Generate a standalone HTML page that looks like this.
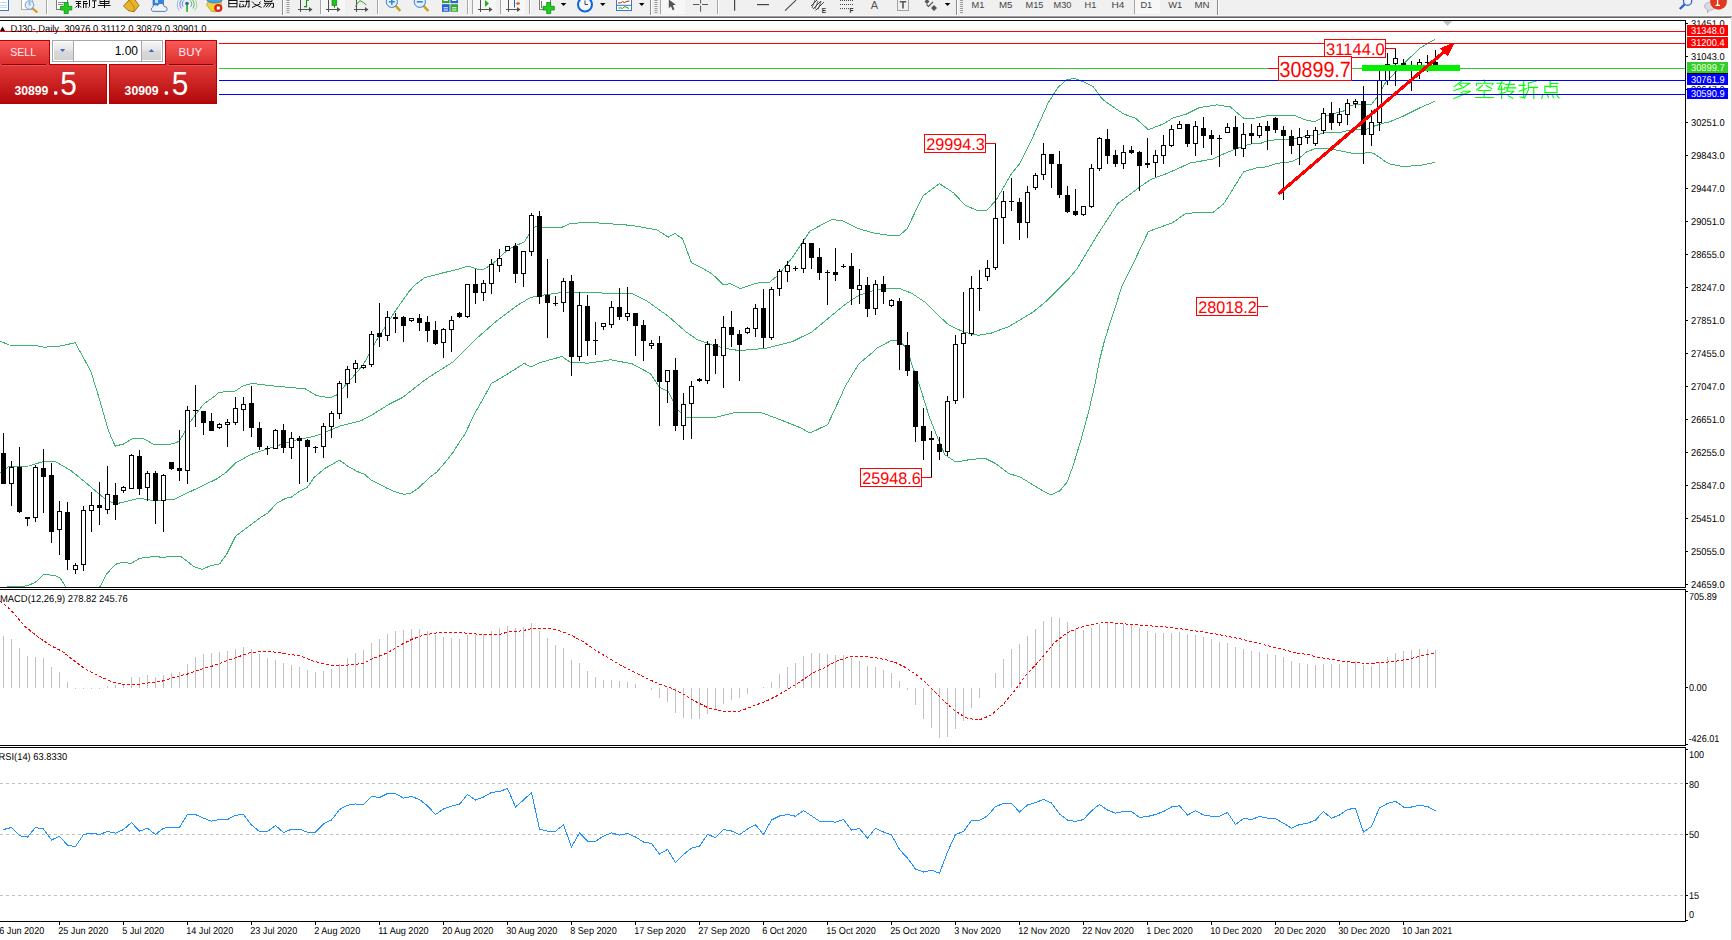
<!DOCTYPE html>
<html><head><meta charset="utf-8"><title>MT4 DJ30 Daily</title>
<style>
html,body{margin:0;padding:0;}
body{width:1732px;height:940px;overflow:hidden;position:relative;background:#fff;font-family:"Liberation Sans", sans-serif;}
#tb{position:absolute;left:0;top:0;width:1732px;height:16px;background:#f0f0f0;overflow:hidden;}
#tbs0{position:absolute;left:0;top:15px;width:1732px;height:1px;background:#f6f6f6;}
#tbs1{position:absolute;left:0;top:16px;width:1732px;height:1px;background:#9c9c9c;}
#tbs2{position:absolute;left:0;top:17px;width:1732px;height:1px;background:#666666;}
#rline{position:absolute;left:1731px;top:17px;width:1px;height:923px;background:#d9d9d9;}
#oc{position:absolute;left:0;top:38px;width:219px;height:68px;background:#fff;}
.btnU{position:absolute;top:2px;height:24px;background:linear-gradient(#f85a5a,#dc2c2c);}
.btnL{position:absolute;top:26px;height:40px;background:linear-gradient(#e03a3a,#b00008);}
.lbl{position:absolute;color:#ffe8e8;font-size:12px;line-height:12px;}
.sep{position:absolute;top:26px;height:1px;background:#7a0000;}
.big{position:absolute;color:#fff;}
</style></head><body>
<div id="tb"><svg width="1732" height="16" viewBox="0 0 1732 16" style="position:absolute;left:0;top:0">
<rect x="-2" y="-3" width="10.5" height="13.5" fill="#fff" stroke="#3b78c8" stroke-width="1"/>
<rect x="0" y="2" width="7" height="1" fill="#c4d8f2"/>
<rect x="0" y="5" width="7" height="1" fill="#c4d8f2"/>
<rect x="0" y="7" width="7" height="1" fill="#c4d8f2"/>
<rect x="21.5" y="-3" width="11" height="12.5" fill="#fff" stroke="#b8ae98" stroke-width="1"/>
<line x1="32" y1="8" x2="37.5" y2="12.5" stroke="#c89a18" stroke-width="2.2"/>
<circle cx="29.5" cy="5" r="4.3" fill="#e2f0fb" stroke="#6d9be0" stroke-width="1"/>
<rect x="28.5" y="1.5" width="2" height="4" fill="#9fb3c8"/>
<rect x="46" y="0" width="1" height="14" fill="#a6a6a6"/>
<rect x="47" y="0" width="1" height="14" fill="#ffffff"/>
<rect x="56.5" y="-3" width="11" height="12.5" fill="#fff" stroke="#7c7c7c" stroke-width="1"/>
<path d="M58 2.5 H64 M58 4.5 H63" stroke="#8a8a8a" stroke-width="1"/>
<path d="M64.2 2.5 H68.2 V6.3 H71.8 V10 H68.2 V13.6 H64.2 V10 H60.5 V6.3 H64.2z" fill="#22cc22" stroke="#0d8a0d" stroke-width="0.8"/>
<g stroke="#111" stroke-width="1" fill="none">
<path d="M75.5 1.5 H81 M76 3.5 H81 M78.5 1.5 V8 M75.5 7.5 L77.5 5.5 M81 7.5 L79.5 5.5 M83 1.5 H87 M83.5 1.5 V8 M86 3.5 V8 M83 3.5 H88"/>
<path d="M89.5 0 V6.5 L88.5 7.5 M92 0.8 H96.5 M94.5 0.8 V7.5 H92.5"/>
<path d="M100 0.5 V3.5 H109 V0.5 M100 1.5 H109 M98 5.5 H110.5 M104.5 0 V8"/>
</g>
<path d="M123.5 6 L129 0 L134.5 -1 L139 5.5 L134 11.8 L128 10.5z" fill="#e7b52c" stroke="#9b6b0c" stroke-width="0.9"/>
<path d="M129 0 L134 7 L134 11.5" stroke="#b07a10" stroke-width="0.8" fill="none"/>
<rect x="153" y="-2" width="10.5" height="7" fill="#2f86e6" stroke="#1c5fb0" stroke-width="0.6"/>
<rect x="155" y="0" width="3" height="3" fill="#bfe0ff"/>
<path d="M152.8 11.4 A2.3 2.3 0 0 1 152.6 7.2 A3 3 0 0 1 157.6 5.6 A3.4 3.4 0 0 1 164.2 6.6 A2.4 2.4 0 0 1 165.2 11.4z" fill="#eef3fa" stroke="#4e6fae" stroke-width="0.9"/>
<g fill="none" stroke="#4a7fe0" stroke-width="0.9">
<path d="M181.2 8.5 A7 7 0 0 1 183 -1.5"/><path d="M183.3 6.8 A4.5 4.5 0 0 1 184.2 0.2"/>
<path d="M192.8 8.5 A7 7 0 0 0 191 -1.5" stroke="#4fae5a"/><path d="M190.7 6.8 A4.5 4.5 0 0 0 189.8 0.2" stroke="#4fae5a"/>
<path d="M179.2 10.5 A9.5 9.5 0 0 1 180 -2" stroke="#8fb0ea"/><path d="M194.8 10.5 A9.5 9.5 0 0 0 194 -2" stroke="#8fcf96"/>
</g>
<circle cx="187" cy="3.6" r="1.8" fill="#2a5fd0"/>
<rect x="186.3" y="4" width="1.5" height="7.8" fill="#17a31e"/>
<path d="M206.5 5 L209 0 L221.5 0 L221 7 L216 11.8 L211.5 11.5z" fill="#f2d23c" stroke="#b79a1a" stroke-width="0.7"/>
<ellipse cx="214.5" cy="0.3" rx="7.5" ry="2.6" fill="#4aa2e4" stroke="#2a74c0" stroke-width="0.7"/>
<circle cx="218.3" cy="8" r="4.1" fill="#d62a14"/>
<rect x="216.8" y="6.5" width="3" height="3" fill="#fff"/>
<g stroke="#111" stroke-width="1" fill="none">
<path d="M228.8 -1 V7.3 M237 -1 V7.3 M228.8 0.5 H237 M228.8 3.5 H237 M228.8 6.8 H237"/>
<path d="M239.5 1.4 H244.5 M240 3.3 L239.5 7 L244.5 6.5 M242.5 4 L244 6 M245.5 1.5 H249.5 M249 0 V7.2 L247.5 6.8 M246.8 0 V3 L245 7.3"/>
<path d="M252 1.5 L253.5 3 M260.5 1.5 L259 3 M253.5 3.6 L261.5 7.5 M260.5 3.6 L252 7.5"/>
<path d="M264.5 -1 V1.4 H272 V-1 M264 3.3 H273.5 V7.3 H271.5 M266.5 3.3 L263.5 7.3 M269 3.3 L266 7.3 M271.3 3.3 L268.5 7.3"/>
</g>
<rect x="282" y="0" width="1" height="16" fill="#8c8c8c"/>
<rect x="283" y="0" width="1" height="16" fill="#ffffff"/>
<rect x="286.5" y="0" width="3" height="1" fill="#9a9a9a"/>
<rect x="286.5" y="2" width="3" height="1" fill="#9a9a9a"/>
<rect x="286.5" y="4" width="3" height="1" fill="#9a9a9a"/>
<rect x="286.5" y="6" width="3" height="1" fill="#9a9a9a"/>
<rect x="286.5" y="8" width="3" height="1" fill="#9a9a9a"/>
<rect x="286.5" y="10" width="3" height="1" fill="#9a9a9a"/>
<rect x="286.5" y="12" width="3" height="1" fill="#9a9a9a"/>
<path d="M300.5 0 V12 M298 9.5 H312" stroke="#505050" stroke-width="1" fill="none"/>
<path d="M309 7.0 L312.5 9.5 L309 12.0z" fill="#505050"/>
<path d="M306.5 0 V7.6 M304 6.6 H306.5 M306.5 0.3 H309" stroke="#129212" stroke-width="1.1" fill="none"/>
<rect x="320" y="0" width="1" height="14" fill="#a6a6a6"/>
<rect x="321" y="0" width="1" height="14" fill="#ffffff"/>
<rect x="322" y="0" width="23" height="14" fill="#f7f7f7"/>
<path d="M328.5 0 V12 M326 9.5 H340" stroke="#505050" stroke-width="1" fill="none"/>
<path d="M337 7.0 L340.5 9.5 L337 12.0z" fill="#505050"/>
<rect x="332" y="-1" width="4.8" height="6.5" fill="#22c422" stroke="#0f8a0f" stroke-width="0.7"/>
<rect x="334" y="5.5" width="1" height="2.2" fill="#0f8a0f"/>
<path d="M356.5 0 V12 M354 9.5 H368" stroke="#505050" stroke-width="1" fill="none"/>
<path d="M365 7.0 L368.5 9.5 L365 12.0z" fill="#505050"/>
<path d="M355.5 6.5 Q359 0 361 1 T366.5 5" stroke="#22a022" stroke-width="1" fill="none"/>
<rect x="377" y="0" width="1" height="14" fill="#a6a6a6"/>
<rect x="378" y="0" width="1" height="14" fill="#ffffff"/>
<line x1="395.3" y1="5.5" x2="400.3" y2="11" stroke="#c9a114" stroke-width="2.6"/>
<circle cx="391.8" cy="1.8" r="5.6" fill="#dff0fc" stroke="#3c7cd0" stroke-width="1"/>
<path d="M388.8 1.8 H394.8 M391.8 -1.2 V4.8" stroke="#3a84c8" stroke-width="1.6"/>
<line x1="423.3" y1="5.5" x2="428.3" y2="11" stroke="#c9a114" stroke-width="2.6"/>
<circle cx="419.8" cy="1.8" r="5.6" fill="#dff0fc" stroke="#3c7cd0" stroke-width="1"/>
<path d="M416.8 1.8 H422.8" stroke="#3a84c8" stroke-width="1.6"/>
<rect x="442" y="-2" width="7.6" height="5.1" fill="#33a833"/><rect x="450.4" y="-2" width="7.6" height="5.1" fill="#2a5fd8"/>
<rect x="442" y="4.2" width="7.6" height="7.6" fill="#2a5fd8"/><rect x="450.4" y="4.2" width="7.6" height="7.6" fill="#33a833"/>
<path d="M443.5 7.8 H448 M452 7.8 H456.5 M443.5 10 H448 M452 10 H456.5 M443.5 0.5 H448 M452 0.5 H456.5" stroke="#fff" stroke-width="1"/>
<rect x="467" y="0" width="1" height="14" fill="#a6a6a6"/>
<rect x="468" y="0" width="1" height="14" fill="#ffffff"/>
<rect x="472" y="0" width="1" height="14" fill="#a6a6a6"/>
<rect x="473" y="0" width="23" height="14" fill="#f7f7f7"/>
<path d="M480.5 0 V12 M478 9.5 H492" stroke="#505050" stroke-width="1" fill="none"/>
<path d="M489 7.0 L492.5 9.5 L489 12.0z" fill="#505050"/>
<path d="M485 0 L489 3.5 L485 7z" fill="#19b419"/>
<rect x="500" y="0" width="1" height="14" fill="#a6a6a6"/>
<rect x="501" y="0" width="1" height="14" fill="#ffffff"/>
<rect x="501" y="0" width="24" height="14" fill="#f7f7f7"/>
<path d="M508.5 0 V12 M506 9.5 H520" stroke="#505050" stroke-width="1" fill="none"/>
<path d="M517 7.0 L520.5 9.5 L517 12.0z" fill="#505050"/>
<rect x="514" y="0" width="1" height="7.6" fill="#1b5fb8"/>
<path d="M515.6 3.5 L518.5 1.5 V2.8 H520 V4.2 H518.5 V5.5z" fill="#e85a10"/>
<rect x="529" y="0" width="1" height="14" fill="#a6a6a6"/>
<rect x="530" y="0" width="1" height="14" fill="#ffffff"/>
<rect x="539.5" y="-3" width="11" height="12.5" fill="#fff" stroke="#7c7c7c" stroke-width="1"/>
<path d="M541.5 1 V8" stroke="#777" stroke-width="1"/>
<path d="M546.7 2.5 H550.7 V6.3 H554.3 V10 H550.7 V13.6 H546.7 V10 H543 V6.3 H546.7z" fill="#22cc22" stroke="#0d8a0d" stroke-width="0.8"/>
<path d="M560.8 3 H566.3 L563.55 6z" fill="#000"/>
<circle cx="585" cy="4.5" r="7" fill="#f4f8fc" stroke="#1264d6" stroke-width="2"/>
<path d="M585 0.5 V4.5 H588" stroke="#444" stroke-width="1" fill="none"/>
<path d="M600 3 H605.5 L602.75 6z" fill="#000"/>
<rect x="616.5" y="-2" width="15" height="12.5" fill="#fff" stroke="#3a78c8" stroke-width="1"/>
<rect x="617" y="4.8" width="14" height="1" fill="#3a78c8"/>
<path d="M618 3 L620.5 2.8 L622.5 1.6 L624.5 2.6 L627 1.3 L629.5 1.1" stroke="#b03010" stroke-width="1" fill="none"/>
<path d="M618.5 8.2 L620.5 7.8 L622.5 8.4 L625 6.5 L627 7.5 L629 8.5" stroke="#1d9a1d" stroke-width="1" fill="none"/>
<path d="M639 3 H644.5 L641.75 6z" fill="#000"/>
<rect x="650" y="0" width="1" height="16" fill="#8c8c8c"/>
<rect x="651" y="0" width="1" height="16" fill="#ffffff"/>
<rect x="654.5" y="0" width="3" height="1" fill="#9a9a9a"/>
<rect x="654.5" y="2" width="3" height="1" fill="#9a9a9a"/>
<rect x="654.5" y="4" width="3" height="1" fill="#9a9a9a"/>
<rect x="654.5" y="6" width="3" height="1" fill="#9a9a9a"/>
<rect x="654.5" y="8" width="3" height="1" fill="#9a9a9a"/>
<rect x="654.5" y="10" width="3" height="1" fill="#9a9a9a"/>
<rect x="654.5" y="12" width="3" height="1" fill="#9a9a9a"/>
<rect x="660" y="0" width="1" height="14" fill="#a6a6a6"/>
<rect x="661" y="0" width="1" height="14" fill="#ffffff"/>
<rect x="661" y="0" width="24" height="14" fill="#f7f7f7"/>
<path d="M668.8 -0.5 L675.8 4.8 L672.8 5.2 L674.5 9.5 L672.6 10.3 L671 6.2 L668.8 8.2z" fill="#555"/>
<path d="M693 4.5 H699.5 M702 4.5 H708 M700.6 0 V3.5 M700.6 5.7 V11.8" stroke="#555" stroke-width="1"/>
<rect x="717" y="0" width="1" height="14" fill="#a6a6a6"/>
<rect x="718" y="0" width="1" height="14" fill="#ffffff"/>
<rect x="734" y="0" width="1.2" height="10.7" fill="#444"/>
<rect x="757" y="4" width="12" height="1.2" fill="#444"/>
<line x1="785" y1="10.7" x2="796" y2="0.2" stroke="#444" stroke-width="1.1"/>
<path d="M811 6 L818 -1 M813 9 L821 1 M815.5 10.5 L824 2" stroke="#444" stroke-width="1" fill="none"/>
<path d="M812 8 L815 0 M815 9 L818 1 M818 9.5 L821 1.5" stroke="#444" stroke-width="0.8" fill="none"/>
<text x="821.8" y="12.7" font-family='"Liberation Sans", sans-serif' font-size="6.5" font-weight="bold" fill="#333">E</text>
<line x1="840" y1="0.5" x2="853" y2="0.5" stroke="#444" stroke-width="1" stroke-dasharray="1 1"/>
<line x1="840" y1="4.5" x2="853" y2="4.5" stroke="#444" stroke-width="1" stroke-dasharray="1 1"/>
<line x1="840" y1="8.6" x2="853" y2="8.6" stroke="#444" stroke-width="1" stroke-dasharray="1 1"/>
<text x="849.6" y="12.8" font-family='"Liberation Sans", sans-serif' font-size="6.5" font-weight="bold" fill="#333">F</text>
<text x="870.8" y="8.8" font-family='"Liberation Sans", sans-serif' font-size="11" fill="#555">A</text>
<rect x="897.5" y="-0.5" width="11" height="11" fill="none" stroke="#555" stroke-width="1" stroke-dasharray="1 1"/>
<path d="M899.8 1.7 H906.2 M903 1.7 V8.6" stroke="#555" stroke-width="1.6" fill="none"/>
<path d="M924.5 1.5 L927 -1 L929.5 1.5 L927 4z M931 8 L934 5 L937 8 L934 11z" fill="#555"/>
<path d="M926.5 4.5 L928.5 6.5 L933 2" stroke="#555" stroke-width="1.1" fill="none"/>
<path d="M944.8 3 H950.3 L947.55 6z" fill="#000"/>
<rect x="956" y="0" width="1" height="16" fill="#8c8c8c"/>
<rect x="957" y="0" width="1" height="16" fill="#ffffff"/>
<rect x="960.0" y="0" width="3" height="1" fill="#9a9a9a"/>
<rect x="960.0" y="2" width="3" height="1" fill="#9a9a9a"/>
<rect x="960.0" y="4" width="3" height="1" fill="#9a9a9a"/>
<rect x="960.0" y="6" width="3" height="1" fill="#9a9a9a"/>
<rect x="960.0" y="8" width="3" height="1" fill="#9a9a9a"/>
<rect x="960.0" y="10" width="3" height="1" fill="#9a9a9a"/>
<rect x="960.0" y="12" width="3" height="1" fill="#9a9a9a"/>
<rect x="1135" y="0" width="25" height="14" fill="#f7f7f7"/>
<rect x="1134" y="0" width="1" height="14" fill="#a6a6a6"/>
<text x="971.5" y="8" font-family='"Liberation Sans", sans-serif' font-size="9.6" fill="#444" textLength="12.899999999999977" lengthAdjust="spacingAndGlyphs">M1</text>
<text x="999" y="8" font-family='"Liberation Sans", sans-serif' font-size="9.6" fill="#444" textLength="13.5" lengthAdjust="spacingAndGlyphs">M5</text>
<text x="1025.6" y="8" font-family='"Liberation Sans", sans-serif' font-size="9.6" fill="#444" textLength="17.90000000000009" lengthAdjust="spacingAndGlyphs">M15</text>
<text x="1053.6" y="8" font-family='"Liberation Sans", sans-serif' font-size="9.6" fill="#444" textLength="17.90000000000009" lengthAdjust="spacingAndGlyphs">M30</text>
<text x="1084.5" y="8" font-family='"Liberation Sans", sans-serif' font-size="9.6" fill="#444" textLength="11.799999999999955" lengthAdjust="spacingAndGlyphs">H1</text>
<text x="1111.4" y="8" font-family='"Liberation Sans", sans-serif' font-size="9.6" fill="#444" textLength="13.0" lengthAdjust="spacingAndGlyphs">H4</text>
<text x="1140.4" y="8" font-family='"Liberation Sans", sans-serif' font-size="9.6" fill="#444" textLength="11.799999999999955" lengthAdjust="spacingAndGlyphs">D1</text>
<text x="1168.2" y="8" font-family='"Liberation Sans", sans-serif' font-size="9.6" fill="#444" textLength="14.099999999999909" lengthAdjust="spacingAndGlyphs">W1</text>
<text x="1194.5" y="8" font-family='"Liberation Sans", sans-serif' font-size="9.6" fill="#444" textLength="15.099999999999909" lengthAdjust="spacingAndGlyphs">MN</text>
<rect x="1217" y="0" width="1" height="16" fill="#8c8c8c"/>
<rect x="1218" y="0" width="1" height="16" fill="#ffffff"/>
<line x1="1679.8" y1="9" x2="1684.6" y2="4.4" stroke="#2b63cf" stroke-width="2.4"/>
<circle cx="1687.6" cy="1.2" r="4.1" fill="#f0f3ff" stroke="#2b63cf" stroke-width="1.3"/>
<path d="M1704.6 6 C1704.6 1.2 1715 1.2 1715 6 C1715 9.6 1711 10.2 1709.5 10.2 L1707.4 12.8 L1707.6 9.8 C1705.6 9 1704.6 7.6 1704.6 6z" fill="#dadbe6" stroke="#a6a6b0" stroke-width="0.8"/>
<circle cx="1718.5" cy="1.4" r="8.4" fill="#e03a1e"/>
<path d="M1717.6 -1 V5.4 M1715.6 5.4 H1720" stroke="#fff" stroke-width="1.3" fill="none"/>
</svg></div><div id="tbs0"></div><div id="tbs1"></div><div id="tbs2"></div><div id="rline"></div>
<svg id="ch" width="1732" height="940" viewBox="0 0 1732 940" text-rendering="geometricPrecision" style="position:absolute;left:0;top:0">
<defs><clipPath id="cm"><rect x="0" y="21" width="1685" height="566"/></clipPath><clipPath id="cmacd"><rect x="0" y="590" width="1685" height="155"/></clipPath><clipPath id="crsi"><rect x="0" y="748" width="1685" height="173"/></clipPath></defs>
<g clip-path="url(#cm)" fill="none" stroke="#3cb371" stroke-width="1" shape-rendering="crispEdges">
<polyline points="0.0,341.0 8.9,345.0 35.4,345.4 44.3,347.2 59.8,346.1 75.2,342.8 90.7,370.9 99.6,399.7 108.4,430.6 115.1,446.1 123.9,443.9 132.8,438.4 143.9,438.8 154.9,445.0 172.6,443.9 179.3,441.3 190.3,421.8 203.6,404.1 216.0,395.2 219.0,392.2 234.6,391.4 243.4,385.6 252.3,383.4 270.0,385.6 305.4,388.9 316.4,395.6 329.7,397.8 336.4,395.1 349.6,380.7 363.0,365.2 376.2,340.9 396.0,310.0 409.4,291.0 416.0,284.1 424.9,277.5 442.6,273.0 460.3,268.6 468.0,265.9 478.0,269.3 484.6,269.0 493.5,263.1 504.5,252.7 513.4,246.5 524.4,242.0 531.0,231.0 535.5,226.6 542.1,227.7 562.0,227.2 570.9,223.2 593.0,222.6 632.0,225.4 657.2,230.0 668.3,237.1 674.9,233.3 682.6,238.9 691.5,262.8 701.5,267.6 712.5,274.3 723.6,284.9 730.2,283.6 740.2,288.6 756.8,283.1 770.0,282.0 778.9,274.3 792.2,257.7 809.9,231.1 832.0,219.4 843.0,221.0 858.6,228.7 874.0,233.1 889.5,235.3 899.5,235.3 907.2,228.7 922.7,196.2 939.3,183.6 953.7,192.9 964.8,205.0 978.1,211.0 986.9,210.1 995.8,200.6 1011.3,174.0 1020.1,163.0 1031.2,140.9 1048.0,103.2 1057.7,87.7 1066.6,79.9 1074.3,78.4 1084.3,82.1 1093.1,86.6 1102.0,98.7 1108.6,103.8 1124.1,114.2 1135.2,118.0 1148.4,129.7 1163.9,123.7 1172.8,118.0 1186.1,114.2 1199.3,107.6 1217.0,104.9 1230.3,106.9 1243.6,118.2 1256.0,118.0 1262.5,116.7 1271.7,115.0 1293.3,115.0 1306.7,120.4 1315.0,121.7 1320.8,118.8 1327.5,115.4 1344.2,110.8 1350.8,105.4 1358.3,104.2 1371.7,104.2 1377.5,96.7 1385.2,83.1 1402.9,64.3 1420.6,47.7 1435.0,39.3"/>
<polyline points="0.0,472.7 8.9,466.5 28.8,466.0 44.3,461.2 55.3,461.6 70.8,470.5 88.5,484.9 104.0,498.1 115.1,504.1 139.4,498.1 154.9,501.0 174.8,499.2 188.1,492.6 216.0,479.3 217.9,478.1 226.8,471.8 235.7,462.9 250.0,454.9 262.5,450.4 275.0,446.5 292.9,440.6 310.8,437.0 317.9,435.2 325.1,432.2 341.1,425.7 360.8,420.9 371.8,415.0 389.5,404.0 402.8,397.3 424.0,380.7 429.3,377.0 453.6,361.5 478.0,337.2 495.7,321.7 517.8,305.1 528.9,298.5 535.5,296.3 562.0,292.5 593.0,292.9 632.0,293.4 646.1,300.4 668.3,316.3 686.0,331.8 697.0,339.5 712.5,345.1 725.8,348.4 739.1,350.6 765.6,348.4 792.2,341.7 812.1,331.8 840.0,308.6 845.3,304.3 858.6,295.5 871.8,291.1 887.3,288.4 900.6,288.9 911.7,293.3 925.0,302.1 938.2,315.4 949.3,325.4 964.8,332.4 978.1,335.3 991.3,333.1 1009.0,326.5 1020.0,320.0 1032.8,312.3 1048.1,299.6 1068.5,279.1 1077.6,268.0 1097.5,234.8 1117.5,203.8 1139.6,187.2 1150.7,179.5 1168.4,172.9 1190.5,162.9 1212.6,159.1 1225.9,152.9 1245.8,145.2 1256.0,143.0 1260.8,143.3 1267.5,140.8 1280.0,139.2 1290.0,139.2 1308.3,136.2 1319.2,134.2 1327.5,132.1 1340.0,132.5 1348.3,130.4 1358.3,129.6 1366.7,129.2 1375.0,125.8 1384.3,122.9 1389.6,121.8 1402.9,116.3 1420.6,107.5 1435.0,101.3"/>
<polyline points="0.0,588.0 11.4,586.3 22.9,586.3 27.9,585.7 35.6,582.1 43.8,574.2 50.8,575.1 55.9,576.0 59.7,577.6 65.4,586.3 67.0,589.0"/>
<polyline points="98.0,589.0 100.3,586.3 106.7,573.8 115.6,564.3 121.9,562.4 127.0,562.8 130.8,563.7 139.7,558.2 148.6,557.3 155.0,556.3 161.3,557.3 176.6,556.3 181.6,557.0 194.3,566.8 202.0,569.4 210.8,565.6 219.7,563.9 226.8,554.0 235.7,536.2 250.0,525.5 260.7,517.4 267.9,512.9 276.8,503.1 285.8,498.3 291.1,497.2 300.0,491.0 307.2,487.4 314.3,477.2 325.1,468.3 339.4,460.2 348.3,466.5 357.2,471.5 364.4,474.2 371.5,480.4 387.6,488.5 396.5,492.4 403.7,494.2 410.0,493.6 418.2,488.3 429.9,477.2 436.9,471.9 447.4,459.6 453.3,452.0 459.1,442.7 465.0,433.9 470.8,421.6 475.5,412.2 480.2,404.0 486.0,393.5 491.2,383.7 504.5,375.9 524.4,363.3 531.0,367.1 539.9,362.6 562.0,356.5 570.9,362.6 588.6,363.1 610.8,359.8 632.0,363.8 650.6,373.8 659.4,387.1 668.3,391.5 677.1,409.2 686.0,417.7 697.0,417.7 717.0,417.0 734.7,412.6 761.2,412.6 778.9,419.2 801.0,428.0 809.9,433.1 827.6,424.7 840.0,398.2 845.3,386.2 858.6,364.1 871.8,353.0 876.3,348.6 891.8,340.2 898.4,340.2 907.2,348.6 911.7,364.1 920.5,388.4 929.4,417.2 938.2,439.3 944.9,454.8 955.9,462.1 969.2,459.7 984.7,458.1 995.8,463.7 1009.0,473.6 1020.0,477.0 1032.8,484.7 1043.0,491.0 1050.6,494.9 1059.6,491.0 1067.2,482.1 1073.6,464.2 1081.3,438.7 1088.9,410.6 1095.3,382.5 1099.1,362.1 1104.2,341.7 1109.4,325.1 1115.7,306.0 1122.1,285.5 1128.5,272.8 1134.9,260.0 1148.4,231.5 1172.8,222.6 1186.1,213.1 1212.6,212.7 1223.7,203.8 1243.6,171.8 1256.0,168.0 1262.5,167.9 1277.5,163.3 1291.7,161.7 1300.0,157.5 1306.7,151.7 1315.0,148.8 1327.5,148.3 1335.8,150.0 1344.2,151.7 1355.0,153.8 1363.3,153.3 1370.0,152.1 1375.0,154.2 1384.3,160.8 1389.6,163.9 1402.9,166.5 1420.6,165.4 1435.0,162.3"/>
</g>
<g clip-path="url(#cm)" shape-rendering="crispEdges">
<rect x="3" y="433" width="1" height="51" fill="#000"/>
<rect x="1" y="453" width="5" height="31" fill="#000"/>
<rect x="11" y="461" width="1" height="45" fill="#000"/>
<rect x="9" y="467" width="5" height="17" fill="#000"/>
<rect x="10" y="468" width="3" height="15" fill="#fff"/>
<rect x="19" y="447" width="1" height="66" fill="#000"/>
<rect x="17" y="467" width="5" height="45" fill="#000"/>
<rect x="27" y="517" width="1" height="9" fill="#000"/>
<rect x="25" y="517" width="5" height="2" fill="#000"/>
<rect x="35" y="465" width="1" height="57" fill="#000"/>
<rect x="33" y="467" width="5" height="51" fill="#000"/>
<rect x="34" y="468" width="3" height="49" fill="#fff"/>
<rect x="43" y="449" width="1" height="64" fill="#000"/>
<rect x="41" y="468" width="5" height="9" fill="#000"/>
<rect x="51" y="463" width="1" height="80" fill="#000"/>
<rect x="49" y="475" width="5" height="57" fill="#000"/>
<rect x="59" y="501" width="1" height="54" fill="#000"/>
<rect x="57" y="511" width="5" height="19" fill="#000"/>
<rect x="58" y="512" width="3" height="17" fill="#fff"/>
<rect x="67" y="502" width="1" height="68" fill="#000"/>
<rect x="65" y="512" width="5" height="48" fill="#000"/>
<rect x="75" y="563" width="1" height="11" fill="#000"/>
<rect x="73" y="565" width="5" height="5" fill="#000"/>
<rect x="74" y="566" width="3" height="3" fill="#fff"/>
<rect x="83" y="506" width="1" height="65" fill="#000"/>
<rect x="81" y="510" width="5" height="55" fill="#000"/>
<rect x="82" y="511" width="3" height="53" fill="#fff"/>
<rect x="91" y="492" width="1" height="40" fill="#000"/>
<rect x="89" y="505" width="5" height="6" fill="#000"/>
<rect x="90" y="506" width="3" height="4" fill="#fff"/>
<rect x="99" y="482" width="1" height="43" fill="#000"/>
<rect x="97" y="505" width="5" height="3" fill="#000"/>
<rect x="107" y="466" width="1" height="48" fill="#000"/>
<rect x="105" y="494" width="5" height="16" fill="#000"/>
<rect x="106" y="495" width="3" height="14" fill="#fff"/>
<rect x="115" y="483" width="1" height="37" fill="#000"/>
<rect x="113" y="495" width="5" height="10" fill="#000"/>
<rect x="123" y="486" width="1" height="7" fill="#000"/>
<rect x="121" y="487" width="5" height="4" fill="#000"/>
<rect x="122" y="488" width="3" height="2" fill="#fff"/>
<rect x="131" y="454" width="1" height="35" fill="#000"/>
<rect x="129" y="455" width="5" height="34" fill="#000"/>
<rect x="130" y="456" width="3" height="32" fill="#fff"/>
<rect x="139" y="450" width="1" height="45" fill="#000"/>
<rect x="137" y="456" width="5" height="33" fill="#000"/>
<rect x="147" y="471" width="1" height="30" fill="#000"/>
<rect x="145" y="473" width="5" height="15" fill="#000"/>
<rect x="146" y="474" width="3" height="13" fill="#fff"/>
<rect x="155" y="471" width="1" height="53" fill="#000"/>
<rect x="153" y="473" width="5" height="28" fill="#000"/>
<rect x="163" y="474" width="1" height="58" fill="#000"/>
<rect x="161" y="475" width="5" height="26" fill="#000"/>
<rect x="162" y="476" width="3" height="24" fill="#fff"/>
<rect x="171" y="462" width="1" height="8" fill="#000"/>
<rect x="169" y="462" width="5" height="7" fill="#000"/>
<rect x="179" y="430" width="1" height="51" fill="#000"/>
<rect x="177" y="468" width="5" height="3" fill="#000"/>
<rect x="187" y="406" width="1" height="78" fill="#000"/>
<rect x="185" y="410" width="5" height="61" fill="#000"/>
<rect x="186" y="411" width="3" height="59" fill="#fff"/>
<rect x="195" y="385" width="1" height="42" fill="#000"/>
<rect x="193" y="410" width="5" height="1" fill="#000"/>
<rect x="203" y="411" width="1" height="24" fill="#000"/>
<rect x="201" y="411" width="5" height="12" fill="#000"/>
<rect x="211" y="413" width="1" height="18" fill="#000"/>
<rect x="209" y="421" width="5" height="10" fill="#000"/>
<rect x="219" y="423" width="1" height="6" fill="#000"/>
<rect x="217" y="424" width="5" height="4" fill="#000"/>
<rect x="218" y="425" width="3" height="2" fill="#fff"/>
<rect x="227" y="419" width="1" height="28" fill="#000"/>
<rect x="225" y="422" width="5" height="3" fill="#000"/>
<rect x="226" y="423" width="3" height="1" fill="#fff"/>
<rect x="235" y="397" width="1" height="28" fill="#000"/>
<rect x="233" y="408" width="5" height="15" fill="#000"/>
<rect x="234" y="409" width="3" height="13" fill="#fff"/>
<rect x="243" y="397" width="1" height="34" fill="#000"/>
<rect x="241" y="404" width="5" height="6" fill="#000"/>
<rect x="242" y="405" width="3" height="4" fill="#fff"/>
<rect x="251" y="386" width="1" height="51" fill="#000"/>
<rect x="249" y="403" width="5" height="25" fill="#000"/>
<rect x="259" y="422" width="1" height="28" fill="#000"/>
<rect x="257" y="428" width="5" height="19" fill="#000"/>
<rect x="267" y="446" width="1" height="9" fill="#000"/>
<rect x="265" y="448" width="5" height="1" fill="#000"/>
<rect x="275" y="429" width="1" height="20" fill="#000"/>
<rect x="273" y="430" width="5" height="19" fill="#000"/>
<rect x="274" y="431" width="3" height="17" fill="#fff"/>
<rect x="283" y="424" width="1" height="29" fill="#000"/>
<rect x="281" y="430" width="5" height="18" fill="#000"/>
<rect x="291" y="432" width="1" height="27" fill="#000"/>
<rect x="289" y="438" width="5" height="10" fill="#000"/>
<rect x="290" y="439" width="3" height="8" fill="#fff"/>
<rect x="299" y="436" width="1" height="48" fill="#000"/>
<rect x="297" y="438" width="5" height="3" fill="#000"/>
<rect x="307" y="439" width="1" height="43" fill="#000"/>
<rect x="305" y="440" width="5" height="7" fill="#000"/>
<rect x="315" y="446" width="1" height="7" fill="#000"/>
<rect x="313" y="447" width="5" height="1" fill="#000"/>
<rect x="323" y="423" width="1" height="35" fill="#000"/>
<rect x="321" y="426" width="5" height="21" fill="#000"/>
<rect x="322" y="427" width="3" height="19" fill="#fff"/>
<rect x="331" y="411" width="1" height="27" fill="#000"/>
<rect x="329" y="413" width="5" height="14" fill="#000"/>
<rect x="330" y="414" width="3" height="12" fill="#fff"/>
<rect x="339" y="381" width="1" height="38" fill="#000"/>
<rect x="337" y="383" width="5" height="31" fill="#000"/>
<rect x="338" y="384" width="3" height="29" fill="#fff"/>
<rect x="347" y="366" width="1" height="32" fill="#000"/>
<rect x="345" y="369" width="5" height="15" fill="#000"/>
<rect x="346" y="370" width="3" height="13" fill="#fff"/>
<rect x="355" y="360" width="1" height="23" fill="#000"/>
<rect x="353" y="363" width="5" height="6" fill="#000"/>
<rect x="354" y="364" width="3" height="4" fill="#fff"/>
<rect x="363" y="365" width="1" height="4" fill="#000"/>
<rect x="361" y="365" width="5" height="3" fill="#000"/>
<rect x="362" y="366" width="3" height="1" fill="#fff"/>
<rect x="371" y="331" width="1" height="36" fill="#000"/>
<rect x="369" y="334" width="5" height="31" fill="#000"/>
<rect x="370" y="335" width="3" height="29" fill="#fff"/>
<rect x="379" y="303" width="1" height="44" fill="#000"/>
<rect x="377" y="333" width="5" height="4" fill="#000"/>
<rect x="387" y="311" width="1" height="30" fill="#000"/>
<rect x="385" y="317" width="5" height="19" fill="#000"/>
<rect x="386" y="318" width="3" height="17" fill="#fff"/>
<rect x="395" y="313" width="1" height="20" fill="#000"/>
<rect x="393" y="317" width="5" height="2" fill="#000"/>
<rect x="403" y="316" width="1" height="26" fill="#000"/>
<rect x="401" y="317" width="5" height="9" fill="#000"/>
<rect x="411" y="318" width="1" height="4" fill="#000"/>
<rect x="409" y="318" width="5" height="3" fill="#000"/>
<rect x="410" y="319" width="3" height="1" fill="#fff"/>
<rect x="419" y="314" width="1" height="17" fill="#000"/>
<rect x="417" y="318" width="5" height="5" fill="#000"/>
<rect x="427" y="316" width="1" height="26" fill="#000"/>
<rect x="425" y="322" width="5" height="9" fill="#000"/>
<rect x="435" y="321" width="1" height="24" fill="#000"/>
<rect x="433" y="330" width="5" height="14" fill="#000"/>
<rect x="443" y="328" width="1" height="30" fill="#000"/>
<rect x="441" y="329" width="5" height="14" fill="#000"/>
<rect x="442" y="330" width="3" height="12" fill="#fff"/>
<rect x="451" y="316" width="1" height="36" fill="#000"/>
<rect x="449" y="320" width="5" height="10" fill="#000"/>
<rect x="450" y="321" width="3" height="8" fill="#fff"/>
<rect x="459" y="312" width="1" height="6" fill="#000"/>
<rect x="457" y="313" width="5" height="4" fill="#000"/>
<rect x="467" y="284" width="1" height="34" fill="#000"/>
<rect x="465" y="284" width="5" height="33" fill="#000"/>
<rect x="466" y="285" width="3" height="31" fill="#fff"/>
<rect x="475" y="269" width="1" height="35" fill="#000"/>
<rect x="473" y="284" width="5" height="9" fill="#000"/>
<rect x="483" y="280" width="1" height="21" fill="#000"/>
<rect x="481" y="283" width="5" height="10" fill="#000"/>
<rect x="482" y="284" width="3" height="8" fill="#fff"/>
<rect x="491" y="259" width="1" height="35" fill="#000"/>
<rect x="489" y="264" width="5" height="20" fill="#000"/>
<rect x="490" y="265" width="3" height="18" fill="#fff"/>
<rect x="499" y="249" width="1" height="23" fill="#000"/>
<rect x="497" y="258" width="5" height="8" fill="#000"/>
<rect x="498" y="259" width="3" height="6" fill="#fff"/>
<rect x="507" y="246" width="1" height="5" fill="#000"/>
<rect x="505" y="246" width="5" height="5" fill="#000"/>
<rect x="506" y="247" width="3" height="3" fill="#fff"/>
<rect x="515" y="243" width="1" height="40" fill="#000"/>
<rect x="513" y="246" width="5" height="28" fill="#000"/>
<rect x="523" y="251" width="1" height="36" fill="#000"/>
<rect x="521" y="251" width="5" height="23" fill="#000"/>
<rect x="522" y="252" width="3" height="21" fill="#fff"/>
<rect x="531" y="213" width="1" height="43" fill="#000"/>
<rect x="529" y="215" width="5" height="37" fill="#000"/>
<rect x="530" y="216" width="3" height="35" fill="#fff"/>
<rect x="539" y="211" width="1" height="93" fill="#000"/>
<rect x="537" y="216" width="5" height="81" fill="#000"/>
<rect x="547" y="259" width="1" height="79" fill="#000"/>
<rect x="545" y="295" width="5" height="8" fill="#000"/>
<rect x="555" y="296" width="1" height="10" fill="#000"/>
<rect x="553" y="303" width="5" height="1" fill="#000"/>
<rect x="563" y="278" width="1" height="34" fill="#000"/>
<rect x="561" y="281" width="5" height="22" fill="#000"/>
<rect x="562" y="282" width="3" height="20" fill="#fff"/>
<rect x="571" y="275" width="1" height="101" fill="#000"/>
<rect x="569" y="281" width="5" height="76" fill="#000"/>
<rect x="579" y="292" width="1" height="69" fill="#000"/>
<rect x="577" y="305" width="5" height="52" fill="#000"/>
<rect x="578" y="306" width="3" height="50" fill="#fff"/>
<rect x="587" y="295" width="1" height="61" fill="#000"/>
<rect x="585" y="306" width="5" height="35" fill="#000"/>
<rect x="595" y="322" width="1" height="33" fill="#000"/>
<rect x="593" y="340" width="5" height="1" fill="#000"/>
<rect x="603" y="323" width="1" height="7" fill="#000"/>
<rect x="601" y="323" width="5" height="4" fill="#000"/>
<rect x="602" y="324" width="3" height="2" fill="#fff"/>
<rect x="611" y="301" width="1" height="27" fill="#000"/>
<rect x="609" y="307" width="5" height="18" fill="#000"/>
<rect x="610" y="308" width="3" height="16" fill="#fff"/>
<rect x="619" y="288" width="1" height="32" fill="#000"/>
<rect x="617" y="307" width="5" height="10" fill="#000"/>
<rect x="627" y="287" width="1" height="34" fill="#000"/>
<rect x="625" y="313" width="5" height="4" fill="#000"/>
<rect x="626" y="314" width="3" height="2" fill="#fff"/>
<rect x="635" y="313" width="1" height="43" fill="#000"/>
<rect x="633" y="313" width="5" height="13" fill="#000"/>
<rect x="643" y="320" width="1" height="41" fill="#000"/>
<rect x="641" y="325" width="5" height="16" fill="#000"/>
<rect x="651" y="340" width="1" height="9" fill="#000"/>
<rect x="649" y="343" width="5" height="3" fill="#000"/>
<rect x="650" y="344" width="3" height="1" fill="#fff"/>
<rect x="659" y="336" width="1" height="90" fill="#000"/>
<rect x="657" y="343" width="5" height="39" fill="#000"/>
<rect x="667" y="370" width="1" height="33" fill="#000"/>
<rect x="665" y="370" width="5" height="12" fill="#000"/>
<rect x="666" y="371" width="3" height="10" fill="#fff"/>
<rect x="675" y="358" width="1" height="73" fill="#000"/>
<rect x="673" y="370" width="5" height="56" fill="#000"/>
<rect x="683" y="393" width="1" height="47" fill="#000"/>
<rect x="681" y="404" width="5" height="22" fill="#000"/>
<rect x="682" y="405" width="3" height="20" fill="#fff"/>
<rect x="691" y="381" width="1" height="58" fill="#000"/>
<rect x="689" y="386" width="5" height="18" fill="#000"/>
<rect x="690" y="387" width="3" height="16" fill="#fff"/>
<rect x="699" y="378" width="1" height="4" fill="#000"/>
<rect x="697" y="379" width="5" height="2" fill="#000"/>
<rect x="707" y="341" width="1" height="43" fill="#000"/>
<rect x="705" y="344" width="5" height="37" fill="#000"/>
<rect x="706" y="345" width="3" height="35" fill="#fff"/>
<rect x="715" y="339" width="1" height="35" fill="#000"/>
<rect x="713" y="344" width="5" height="12" fill="#000"/>
<rect x="723" y="316" width="1" height="72" fill="#000"/>
<rect x="721" y="327" width="5" height="29" fill="#000"/>
<rect x="722" y="328" width="3" height="27" fill="#fff"/>
<rect x="731" y="311" width="1" height="36" fill="#000"/>
<rect x="729" y="327" width="5" height="8" fill="#000"/>
<rect x="739" y="330" width="1" height="51" fill="#000"/>
<rect x="737" y="334" width="5" height="11" fill="#000"/>
<rect x="747" y="327" width="1" height="7" fill="#000"/>
<rect x="745" y="328" width="5" height="5" fill="#000"/>
<rect x="746" y="329" width="3" height="3" fill="#fff"/>
<rect x="755" y="304" width="1" height="33" fill="#000"/>
<rect x="753" y="308" width="5" height="21" fill="#000"/>
<rect x="754" y="309" width="3" height="19" fill="#fff"/>
<rect x="763" y="289" width="1" height="59" fill="#000"/>
<rect x="761" y="308" width="5" height="30" fill="#000"/>
<rect x="771" y="287" width="1" height="53" fill="#000"/>
<rect x="769" y="289" width="5" height="49" fill="#000"/>
<rect x="770" y="290" width="3" height="47" fill="#fff"/>
<rect x="779" y="269" width="1" height="27" fill="#000"/>
<rect x="777" y="271" width="5" height="18" fill="#000"/>
<rect x="778" y="272" width="3" height="16" fill="#fff"/>
<rect x="787" y="261" width="1" height="21" fill="#000"/>
<rect x="785" y="265" width="5" height="7" fill="#000"/>
<rect x="786" y="266" width="3" height="5" fill="#fff"/>
<rect x="795" y="266" width="1" height="5" fill="#000"/>
<rect x="793" y="268" width="5" height="1" fill="#000"/>
<rect x="803" y="239" width="1" height="34" fill="#000"/>
<rect x="801" y="243" width="5" height="26" fill="#000"/>
<rect x="802" y="244" width="3" height="24" fill="#fff"/>
<rect x="811" y="243" width="1" height="26" fill="#000"/>
<rect x="809" y="243" width="5" height="15" fill="#000"/>
<rect x="819" y="248" width="1" height="32" fill="#000"/>
<rect x="817" y="257" width="5" height="16" fill="#000"/>
<rect x="827" y="270" width="1" height="35" fill="#000"/>
<rect x="825" y="272" width="5" height="1" fill="#000"/>
<rect x="835" y="248" width="1" height="33" fill="#000"/>
<rect x="833" y="272" width="5" height="3" fill="#000"/>
<rect x="843" y="264" width="1" height="4" fill="#000"/>
<rect x="841" y="266" width="5" height="1" fill="#000"/>
<rect x="851" y="253" width="1" height="52" fill="#000"/>
<rect x="849" y="266" width="5" height="23" fill="#000"/>
<rect x="859" y="269" width="1" height="35" fill="#000"/>
<rect x="857" y="285" width="5" height="5" fill="#000"/>
<rect x="858" y="286" width="3" height="3" fill="#fff"/>
<rect x="867" y="277" width="1" height="40" fill="#000"/>
<rect x="865" y="285" width="5" height="24" fill="#000"/>
<rect x="875" y="280" width="1" height="35" fill="#000"/>
<rect x="873" y="284" width="5" height="25" fill="#000"/>
<rect x="874" y="285" width="3" height="23" fill="#fff"/>
<rect x="883" y="276" width="1" height="28" fill="#000"/>
<rect x="881" y="284" width="5" height="8" fill="#000"/>
<rect x="891" y="299" width="1" height="8" fill="#000"/>
<rect x="889" y="300" width="5" height="6" fill="#000"/>
<rect x="890" y="301" width="3" height="4" fill="#fff"/>
<rect x="899" y="298" width="1" height="72" fill="#000"/>
<rect x="897" y="301" width="5" height="44" fill="#000"/>
<rect x="907" y="332" width="1" height="44" fill="#000"/>
<rect x="905" y="345" width="5" height="26" fill="#000"/>
<rect x="915" y="371" width="1" height="71" fill="#000"/>
<rect x="913" y="371" width="5" height="56" fill="#000"/>
<rect x="923" y="408" width="1" height="52" fill="#000"/>
<rect x="921" y="426" width="5" height="15" fill="#000"/>
<rect x="931" y="431" width="1" height="46" fill="#000"/>
<rect x="929" y="438" width="5" height="2" fill="#000"/>
<rect x="939" y="437" width="1" height="23" fill="#000"/>
<rect x="937" y="444" width="5" height="8" fill="#000"/>
<rect x="947" y="396" width="1" height="60" fill="#000"/>
<rect x="945" y="401" width="5" height="51" fill="#000"/>
<rect x="946" y="402" width="3" height="49" fill="#fff"/>
<rect x="955" y="335" width="1" height="69" fill="#000"/>
<rect x="953" y="344" width="5" height="57" fill="#000"/>
<rect x="954" y="345" width="3" height="55" fill="#fff"/>
<rect x="963" y="292" width="1" height="106" fill="#000"/>
<rect x="961" y="333" width="5" height="11" fill="#000"/>
<rect x="962" y="334" width="3" height="9" fill="#fff"/>
<rect x="971" y="276" width="1" height="60" fill="#000"/>
<rect x="969" y="288" width="5" height="46" fill="#000"/>
<rect x="970" y="289" width="3" height="44" fill="#fff"/>
<rect x="979" y="270" width="1" height="41" fill="#000"/>
<rect x="977" y="288" width="5" height="1" fill="#000"/>
<rect x="987" y="260" width="1" height="21" fill="#000"/>
<rect x="985" y="268" width="5" height="9" fill="#000"/>
<rect x="986" y="269" width="3" height="7" fill="#fff"/>
<rect x="995" y="143" width="1" height="127" fill="#000"/>
<rect x="993" y="218" width="5" height="50" fill="#000"/>
<rect x="994" y="219" width="3" height="48" fill="#fff"/>
<rect x="1003" y="191" width="1" height="53" fill="#000"/>
<rect x="1001" y="201" width="5" height="17" fill="#000"/>
<rect x="1002" y="202" width="3" height="15" fill="#fff"/>
<rect x="1011" y="178" width="1" height="33" fill="#000"/>
<rect x="1009" y="201" width="5" height="1" fill="#000"/>
<rect x="1019" y="198" width="1" height="42" fill="#000"/>
<rect x="1017" y="202" width="5" height="21" fill="#000"/>
<rect x="1027" y="186" width="1" height="52" fill="#000"/>
<rect x="1025" y="192" width="5" height="31" fill="#000"/>
<rect x="1026" y="193" width="3" height="29" fill="#fff"/>
<rect x="1035" y="173" width="1" height="17" fill="#000"/>
<rect x="1033" y="175" width="5" height="13" fill="#000"/>
<rect x="1034" y="176" width="3" height="11" fill="#fff"/>
<rect x="1043" y="143" width="1" height="37" fill="#000"/>
<rect x="1041" y="154" width="5" height="21" fill="#000"/>
<rect x="1042" y="155" width="3" height="19" fill="#fff"/>
<rect x="1051" y="154" width="1" height="34" fill="#000"/>
<rect x="1049" y="154" width="5" height="10" fill="#000"/>
<rect x="1059" y="151" width="1" height="47" fill="#000"/>
<rect x="1057" y="164" width="5" height="31" fill="#000"/>
<rect x="1067" y="186" width="1" height="27" fill="#000"/>
<rect x="1065" y="195" width="5" height="17" fill="#000"/>
<rect x="1075" y="189" width="1" height="27" fill="#000"/>
<rect x="1073" y="211" width="5" height="4" fill="#000"/>
<rect x="1083" y="206" width="1" height="10" fill="#000"/>
<rect x="1081" y="206" width="5" height="9" fill="#000"/>
<rect x="1082" y="207" width="3" height="7" fill="#fff"/>
<rect x="1091" y="164" width="1" height="44" fill="#000"/>
<rect x="1089" y="168" width="5" height="39" fill="#000"/>
<rect x="1090" y="169" width="3" height="37" fill="#fff"/>
<rect x="1099" y="137" width="1" height="34" fill="#000"/>
<rect x="1097" y="138" width="5" height="31" fill="#000"/>
<rect x="1098" y="139" width="3" height="29" fill="#fff"/>
<rect x="1107" y="129" width="1" height="35" fill="#000"/>
<rect x="1105" y="139" width="5" height="17" fill="#000"/>
<rect x="1115" y="150" width="1" height="17" fill="#000"/>
<rect x="1113" y="155" width="5" height="9" fill="#000"/>
<rect x="1123" y="145" width="1" height="24" fill="#000"/>
<rect x="1121" y="152" width="5" height="12" fill="#000"/>
<rect x="1122" y="153" width="3" height="10" fill="#fff"/>
<rect x="1131" y="146" width="1" height="8" fill="#000"/>
<rect x="1129" y="150" width="5" height="3" fill="#000"/>
<rect x="1139" y="151" width="1" height="40" fill="#000"/>
<rect x="1137" y="152" width="5" height="14" fill="#000"/>
<rect x="1147" y="138" width="1" height="30" fill="#000"/>
<rect x="1145" y="163" width="5" height="2" fill="#000"/>
<rect x="1155" y="150" width="1" height="27" fill="#000"/>
<rect x="1153" y="155" width="5" height="8" fill="#000"/>
<rect x="1154" y="156" width="3" height="6" fill="#fff"/>
<rect x="1163" y="135" width="1" height="29" fill="#000"/>
<rect x="1161" y="145" width="5" height="11" fill="#000"/>
<rect x="1162" y="146" width="3" height="9" fill="#fff"/>
<rect x="1171" y="125" width="1" height="22" fill="#000"/>
<rect x="1169" y="129" width="5" height="17" fill="#000"/>
<rect x="1170" y="130" width="3" height="15" fill="#fff"/>
<rect x="1179" y="121" width="1" height="8" fill="#000"/>
<rect x="1177" y="124" width="5" height="5" fill="#000"/>
<rect x="1178" y="125" width="3" height="3" fill="#fff"/>
<rect x="1187" y="124" width="1" height="23" fill="#000"/>
<rect x="1185" y="124" width="5" height="20" fill="#000"/>
<rect x="1195" y="121" width="1" height="35" fill="#000"/>
<rect x="1193" y="126" width="5" height="18" fill="#000"/>
<rect x="1194" y="127" width="3" height="16" fill="#fff"/>
<rect x="1203" y="117" width="1" height="31" fill="#000"/>
<rect x="1201" y="128" width="5" height="8" fill="#000"/>
<rect x="1211" y="130" width="1" height="25" fill="#000"/>
<rect x="1209" y="135" width="5" height="4" fill="#000"/>
<rect x="1219" y="135" width="1" height="32" fill="#000"/>
<rect x="1217" y="138" width="5" height="1" fill="#000"/>
<rect x="1227" y="123" width="1" height="10" fill="#000"/>
<rect x="1225" y="127" width="5" height="6" fill="#000"/>
<rect x="1226" y="128" width="3" height="4" fill="#fff"/>
<rect x="1235" y="116" width="1" height="40" fill="#000"/>
<rect x="1233" y="127" width="5" height="22" fill="#000"/>
<rect x="1243" y="123" width="1" height="34" fill="#000"/>
<rect x="1241" y="134" width="5" height="15" fill="#000"/>
<rect x="1242" y="135" width="3" height="13" fill="#fff"/>
<rect x="1251" y="124" width="1" height="20" fill="#000"/>
<rect x="1249" y="133" width="5" height="3" fill="#000"/>
<rect x="1259" y="123" width="1" height="15" fill="#000"/>
<rect x="1257" y="126" width="5" height="10" fill="#000"/>
<rect x="1258" y="127" width="3" height="8" fill="#fff"/>
<rect x="1267" y="121" width="1" height="29" fill="#000"/>
<rect x="1265" y="126" width="5" height="5" fill="#000"/>
<rect x="1275" y="117" width="1" height="16" fill="#000"/>
<rect x="1273" y="118" width="5" height="12" fill="#000"/>
<rect x="1283" y="126" width="1" height="74" fill="#000"/>
<rect x="1281" y="130" width="5" height="6" fill="#000"/>
<rect x="1291" y="130" width="1" height="24" fill="#000"/>
<rect x="1289" y="136" width="5" height="10" fill="#000"/>
<rect x="1299" y="128" width="1" height="37" fill="#000"/>
<rect x="1297" y="137" width="5" height="8" fill="#000"/>
<rect x="1298" y="138" width="3" height="6" fill="#fff"/>
<rect x="1307" y="130" width="1" height="14" fill="#000"/>
<rect x="1305" y="135" width="5" height="3" fill="#000"/>
<rect x="1306" y="136" width="3" height="1" fill="#fff"/>
<rect x="1315" y="127" width="1" height="19" fill="#000"/>
<rect x="1313" y="130" width="5" height="14" fill="#000"/>
<rect x="1314" y="131" width="3" height="12" fill="#fff"/>
<rect x="1323" y="108" width="1" height="26" fill="#000"/>
<rect x="1321" y="113" width="5" height="18" fill="#000"/>
<rect x="1322" y="114" width="3" height="16" fill="#fff"/>
<rect x="1331" y="102" width="1" height="28" fill="#000"/>
<rect x="1329" y="113" width="5" height="10" fill="#000"/>
<rect x="1339" y="108" width="1" height="18" fill="#000"/>
<rect x="1337" y="114" width="5" height="9" fill="#000"/>
<rect x="1338" y="115" width="3" height="7" fill="#fff"/>
<rect x="1347" y="99" width="1" height="26" fill="#000"/>
<rect x="1345" y="103" width="5" height="12" fill="#000"/>
<rect x="1346" y="104" width="3" height="10" fill="#fff"/>
<rect x="1355" y="99" width="1" height="9" fill="#000"/>
<rect x="1353" y="101" width="5" height="3" fill="#000"/>
<rect x="1354" y="102" width="3" height="1" fill="#fff"/>
<rect x="1363" y="86" width="1" height="78" fill="#000"/>
<rect x="1361" y="101" width="5" height="34" fill="#000"/>
<rect x="1371" y="110" width="1" height="36" fill="#000"/>
<rect x="1369" y="122" width="5" height="13" fill="#000"/>
<rect x="1370" y="123" width="3" height="11" fill="#fff"/>
<rect x="1379" y="71" width="1" height="60" fill="#000"/>
<rect x="1377" y="80" width="5" height="43" fill="#000"/>
<rect x="1378" y="81" width="3" height="41" fill="#fff"/>
<rect x="1387" y="53" width="1" height="32" fill="#000"/>
<rect x="1385" y="64" width="5" height="17" fill="#000"/>
<rect x="1386" y="65" width="3" height="15" fill="#fff"/>
<rect x="1395" y="48" width="1" height="38" fill="#000"/>
<rect x="1393" y="58" width="5" height="6" fill="#000"/>
<rect x="1394" y="59" width="3" height="4" fill="#fff"/>
<rect x="1403" y="59" width="1" height="11" fill="#000"/>
<rect x="1401" y="63" width="5" height="5" fill="#000"/>
<rect x="1411" y="61" width="1" height="30" fill="#000"/>
<rect x="1409" y="68" width="5" height="1" fill="#000"/>
<rect x="1419" y="59" width="1" height="20" fill="#000"/>
<rect x="1417" y="62" width="5" height="6" fill="#000"/>
<rect x="1418" y="63" width="3" height="4" fill="#fff"/>
<rect x="1427" y="55" width="1" height="17" fill="#000"/>
<rect x="1425" y="62" width="5" height="1" fill="#000"/>
<rect x="1435" y="50" width="1" height="20" fill="#000"/>
<rect x="1433" y="62" width="5" height="6" fill="#000"/>
</g>
<g id="cjk" fill="none" stroke="#00ff00" stroke-width="1.15" stroke-linecap="square">
<path d="M1462.5 80.5 L1454.2 86.6 M1460.4 83.2 H1469.7 L1463 87.8 M1459.5 84.5 L1462 86.5 M1462 88 L1454 90.5 M1462.8 91.2 H1470.8 L1454 98.5 M1461 92.2 L1463.5 94.5"/>
<path d="M1484 80 L1485 82.5 M1476.5 85.5 V83.2 H1493 L1492 85 M1482.5 85.5 L1476.5 90 M1486 85.5 L1491.5 88.6 M1478.5 90.5 H1490.5 M1484.2 90.5 V97.5 M1475.5 97.5 H1493.5"/>
<path d="M1497 83.2 H1504.2 M1502 81.2 L1498.1 89.2 H1504.4 M1501.6 86 V98.5 M1497.4 94.7 L1505.4 92.3 M1505.7 84.3 H1514.4 M1504.4 87.8 H1515.8 M1510.2 80.5 L1506.8 91.2 H1513.7 L1510.6 94 M1508.2 95.7 L1512.7 98.2"/>
<path d="M1519.2 85.4 H1525.1 M1523.7 80.5 V97.5 L1520 97 M1519.2 91.2 L1526.2 88.5 M1535.9 81.2 L1528.3 83 V90 L1524.6 98.2 M1528.3 87.4 H1537.6 M1533.8 87.4 V98.5"/>
<path d="M1550.1 80.5 V87.4 M1550.1 83.5 H1558 M1544.9 86.4 V92.6 H1557 V86.4 H1544.9 M1542.5 95.5 L1541.8 98.5 M1547.5 95.5 L1548.5 97.5 M1552.5 95.5 L1553.5 97.5 M1557 95.5 L1559 98"/>
</g>
<g shape-rendering="crispEdges">
<rect x="0" y="31" width="1685" height="1" fill="#ff0000"/>
<rect x="219" y="43" width="1466" height="1" fill="#ff0000"/>
<rect x="219" y="68" width="1466" height="1" fill="#32cd32"/>
<rect x="1268" y="68" width="10" height="1" fill="#ff0000"/>
<rect x="219" y="80" width="1466" height="1" fill="#0000ff"/>
<rect x="219" y="94" width="1466" height="1" fill="#0000ff"/>
<rect x="1362" y="65" width="98" height="6" fill="#00f000"/>
</g>
<g>
<line x1="1278.5" y1="194" x2="1445" y2="51" stroke="#ff0000" stroke-width="3.2" shape-rendering="crispEdges"/>
<polygon points="1453.5,43.5 1440.5,48.5 1447.8,55.5" fill="#ff0000" stroke="#ff0000" stroke-width="1" shape-rendering="crispEdges"/>
</g>
<rect x="924.5" y="134.5" width="61" height="18" fill="#fff" stroke="#ff0000" stroke-width="1" shape-rendering="crispEdges"/>
<text x="926.2" y="149.5" font-family='"Liberation Sans", sans-serif' font-size="16.8" fill="#ff0000" textLength="58.6" lengthAdjust="spacingAndGlyphs">29994.3</text>
<rect x="986" y="143" width="10" height="1" fill="#ff0000"/>
<rect x="860.5" y="468.5" width="61" height="18" fill="#fff" stroke="#ff0000" stroke-width="1" shape-rendering="crispEdges"/>
<text x="862.2" y="483.5" font-family='"Liberation Sans", sans-serif' font-size="16.8" fill="#ff0000" textLength="58.6" lengthAdjust="spacingAndGlyphs">25948.6</text>
<rect x="922" y="477" width="10" height="1" fill="#ff0000"/>
<rect x="1196.5" y="297.5" width="61" height="18" fill="#fff" stroke="#ff0000" stroke-width="1" shape-rendering="crispEdges"/>
<text x="1198.2" y="312.5" font-family='"Liberation Sans", sans-serif' font-size="16.8" fill="#ff0000" textLength="58.6" lengthAdjust="spacingAndGlyphs">28018.2</text>
<rect x="1258" y="306" width="10" height="1" fill="#ff0000"/>
<rect x="1324.5" y="39.5" width="61" height="18" fill="#fff" stroke="#ff0000" stroke-width="1" shape-rendering="crispEdges"/>
<text x="1326.1" y="54.5" font-family='"Liberation Sans", sans-serif' font-size="16.8" fill="#ff0000" textLength="58.6" lengthAdjust="spacingAndGlyphs">31144.0</text>
<rect x="1386" y="48" width="10" height="1" fill="#ff0000"/>
<rect x="1278.5" y="56.5" width="73" height="24" fill="#fff" stroke="#ff0000" stroke-width="1" shape-rendering="crispEdges"/>
<text x="1279.6" y="76.6" font-family='"Liberation Sans", sans-serif' font-size="22" fill="#ff0000" textLength="71.2" lengthAdjust="spacingAndGlyphs">30899.7</text>
<g clip-path="url(#cmacd)" shape-rendering="crispEdges">
<rect x="3" y="636" width="1" height="52" fill="#c0c0c0"/>
<rect x="11" y="639" width="1" height="49" fill="#c0c0c0"/>
<rect x="19" y="648" width="1" height="40" fill="#c0c0c0"/>
<rect x="27" y="656" width="1" height="32" fill="#c0c0c0"/>
<rect x="35" y="657" width="1" height="31" fill="#c0c0c0"/>
<rect x="43" y="658" width="1" height="30" fill="#c0c0c0"/>
<rect x="51" y="667" width="1" height="21" fill="#c0c0c0"/>
<rect x="59" y="672" width="1" height="16" fill="#c0c0c0"/>
<rect x="67" y="682" width="1" height="6" fill="#c0c0c0"/>
<rect x="75" y="688" width="1" height="1" fill="#c0c0c0"/>
<rect x="83" y="688" width="1" height="1" fill="#c0c0c0"/>
<rect x="91" y="688" width="1" height="1" fill="#c0c0c0"/>
<rect x="99" y="688" width="1" height="1" fill="#c0c0c0"/>
<rect x="107" y="686" width="1" height="2" fill="#c0c0c0"/>
<rect x="115" y="685" width="1" height="3" fill="#c0c0c0"/>
<rect x="123" y="684" width="1" height="4" fill="#c0c0c0"/>
<rect x="131" y="677" width="1" height="11" fill="#c0c0c0"/>
<rect x="139" y="677" width="1" height="11" fill="#c0c0c0"/>
<rect x="147" y="675" width="1" height="13" fill="#c0c0c0"/>
<rect x="155" y="677" width="1" height="11" fill="#c0c0c0"/>
<rect x="163" y="675" width="1" height="13" fill="#c0c0c0"/>
<rect x="171" y="673" width="1" height="15" fill="#c0c0c0"/>
<rect x="179" y="672" width="1" height="16" fill="#c0c0c0"/>
<rect x="187" y="664" width="1" height="24" fill="#c0c0c0"/>
<rect x="195" y="657" width="1" height="31" fill="#c0c0c0"/>
<rect x="203" y="654" width="1" height="34" fill="#c0c0c0"/>
<rect x="211" y="653" width="1" height="35" fill="#c0c0c0"/>
<rect x="219" y="652" width="1" height="36" fill="#c0c0c0"/>
<rect x="227" y="651" width="1" height="37" fill="#c0c0c0"/>
<rect x="235" y="649" width="1" height="39" fill="#c0c0c0"/>
<rect x="243" y="647" width="1" height="41" fill="#c0c0c0"/>
<rect x="251" y="649" width="1" height="39" fill="#c0c0c0"/>
<rect x="259" y="654" width="1" height="34" fill="#c0c0c0"/>
<rect x="267" y="658" width="1" height="30" fill="#c0c0c0"/>
<rect x="275" y="660" width="1" height="28" fill="#c0c0c0"/>
<rect x="283" y="663" width="1" height="25" fill="#c0c0c0"/>
<rect x="291" y="665" width="1" height="23" fill="#c0c0c0"/>
<rect x="299" y="667" width="1" height="21" fill="#c0c0c0"/>
<rect x="307" y="670" width="1" height="18" fill="#c0c0c0"/>
<rect x="315" y="672" width="1" height="16" fill="#c0c0c0"/>
<rect x="323" y="671" width="1" height="17" fill="#c0c0c0"/>
<rect x="331" y="669" width="1" height="19" fill="#c0c0c0"/>
<rect x="339" y="664" width="1" height="24" fill="#c0c0c0"/>
<rect x="347" y="658" width="1" height="30" fill="#c0c0c0"/>
<rect x="355" y="653" width="1" height="35" fill="#c0c0c0"/>
<rect x="363" y="650" width="1" height="38" fill="#c0c0c0"/>
<rect x="371" y="643" width="1" height="45" fill="#c0c0c0"/>
<rect x="379" y="639" width="1" height="49" fill="#c0c0c0"/>
<rect x="387" y="634" width="1" height="54" fill="#c0c0c0"/>
<rect x="395" y="631" width="1" height="57" fill="#c0c0c0"/>
<rect x="403" y="630" width="1" height="58" fill="#c0c0c0"/>
<rect x="411" y="629" width="1" height="59" fill="#c0c0c0"/>
<rect x="419" y="629" width="1" height="59" fill="#c0c0c0"/>
<rect x="427" y="631" width="1" height="57" fill="#c0c0c0"/>
<rect x="435" y="635" width="1" height="53" fill="#c0c0c0"/>
<rect x="443" y="637" width="1" height="51" fill="#c0c0c0"/>
<rect x="451" y="638" width="1" height="50" fill="#c0c0c0"/>
<rect x="459" y="639" width="1" height="49" fill="#c0c0c0"/>
<rect x="467" y="635" width="1" height="53" fill="#c0c0c0"/>
<rect x="475" y="635" width="1" height="53" fill="#c0c0c0"/>
<rect x="483" y="634" width="1" height="54" fill="#c0c0c0"/>
<rect x="491" y="631" width="1" height="57" fill="#c0c0c0"/>
<rect x="499" y="628" width="1" height="60" fill="#c0c0c0"/>
<rect x="507" y="626" width="1" height="62" fill="#c0c0c0"/>
<rect x="515" y="628" width="1" height="60" fill="#c0c0c0"/>
<rect x="523" y="627" width="1" height="61" fill="#c0c0c0"/>
<rect x="531" y="623" width="1" height="65" fill="#c0c0c0"/>
<rect x="539" y="631" width="1" height="57" fill="#c0c0c0"/>
<rect x="547" y="638" width="1" height="50" fill="#c0c0c0"/>
<rect x="555" y="645" width="1" height="43" fill="#c0c0c0"/>
<rect x="563" y="648" width="1" height="40" fill="#c0c0c0"/>
<rect x="571" y="660" width="1" height="28" fill="#c0c0c0"/>
<rect x="579" y="663" width="1" height="25" fill="#c0c0c0"/>
<rect x="587" y="671" width="1" height="17" fill="#c0c0c0"/>
<rect x="595" y="677" width="1" height="11" fill="#c0c0c0"/>
<rect x="603" y="680" width="1" height="8" fill="#c0c0c0"/>
<rect x="611" y="680" width="1" height="8" fill="#c0c0c0"/>
<rect x="619" y="681" width="1" height="7" fill="#c0c0c0"/>
<rect x="627" y="682" width="1" height="6" fill="#c0c0c0"/>
<rect x="635" y="684" width="1" height="4" fill="#c0c0c0"/>
<rect x="651" y="688" width="1" height="2" fill="#c0c0c0"/>
<rect x="659" y="688" width="1" height="10" fill="#c0c0c0"/>
<rect x="667" y="688" width="1" height="14" fill="#c0c0c0"/>
<rect x="675" y="688" width="1" height="25" fill="#c0c0c0"/>
<rect x="683" y="688" width="1" height="30" fill="#c0c0c0"/>
<rect x="691" y="688" width="1" height="31" fill="#c0c0c0"/>
<rect x="699" y="688" width="1" height="31" fill="#c0c0c0"/>
<rect x="707" y="688" width="1" height="26" fill="#c0c0c0"/>
<rect x="715" y="688" width="1" height="22" fill="#c0c0c0"/>
<rect x="723" y="688" width="1" height="16" fill="#c0c0c0"/>
<rect x="731" y="688" width="1" height="12" fill="#c0c0c0"/>
<rect x="739" y="688" width="1" height="10" fill="#c0c0c0"/>
<rect x="747" y="688" width="1" height="6" fill="#c0c0c0"/>
<rect x="763" y="687" width="1" height="1" fill="#c0c0c0"/>
<rect x="771" y="682" width="1" height="6" fill="#c0c0c0"/>
<rect x="779" y="674" width="1" height="14" fill="#c0c0c0"/>
<rect x="787" y="667" width="1" height="21" fill="#c0c0c0"/>
<rect x="795" y="663" width="1" height="25" fill="#c0c0c0"/>
<rect x="803" y="656" width="1" height="32" fill="#c0c0c0"/>
<rect x="811" y="653" width="1" height="35" fill="#c0c0c0"/>
<rect x="819" y="653" width="1" height="35" fill="#c0c0c0"/>
<rect x="827" y="654" width="1" height="34" fill="#c0c0c0"/>
<rect x="835" y="655" width="1" height="33" fill="#c0c0c0"/>
<rect x="843" y="655" width="1" height="33" fill="#c0c0c0"/>
<rect x="851" y="658" width="1" height="30" fill="#c0c0c0"/>
<rect x="859" y="661" width="1" height="27" fill="#c0c0c0"/>
<rect x="867" y="666" width="1" height="22" fill="#c0c0c0"/>
<rect x="875" y="667" width="1" height="21" fill="#c0c0c0"/>
<rect x="883" y="670" width="1" height="18" fill="#c0c0c0"/>
<rect x="891" y="673" width="1" height="15" fill="#c0c0c0"/>
<rect x="899" y="681" width="1" height="7" fill="#c0c0c0"/>
<rect x="907" y="688" width="1" height="2" fill="#c0c0c0"/>
<rect x="915" y="688" width="1" height="17" fill="#c0c0c0"/>
<rect x="923" y="688" width="1" height="31" fill="#c0c0c0"/>
<rect x="931" y="688" width="1" height="40" fill="#c0c0c0"/>
<rect x="939" y="688" width="1" height="50" fill="#c0c0c0"/>
<rect x="947" y="688" width="1" height="49" fill="#c0c0c0"/>
<rect x="955" y="688" width="1" height="41" fill="#c0c0c0"/>
<rect x="963" y="688" width="1" height="33" fill="#c0c0c0"/>
<rect x="971" y="688" width="1" height="20" fill="#c0c0c0"/>
<rect x="979" y="688" width="1" height="10" fill="#c0c0c0"/>
<rect x="995" y="673" width="1" height="15" fill="#c0c0c0"/>
<rect x="1003" y="659" width="1" height="29" fill="#c0c0c0"/>
<rect x="1011" y="649" width="1" height="39" fill="#c0c0c0"/>
<rect x="1019" y="644" width="1" height="44" fill="#c0c0c0"/>
<rect x="1027" y="636" width="1" height="52" fill="#c0c0c0"/>
<rect x="1035" y="629" width="1" height="59" fill="#c0c0c0"/>
<rect x="1043" y="621" width="1" height="67" fill="#c0c0c0"/>
<rect x="1051" y="617" width="1" height="71" fill="#c0c0c0"/>
<rect x="1059" y="618" width="1" height="70" fill="#c0c0c0"/>
<rect x="1067" y="622" width="1" height="66" fill="#c0c0c0"/>
<rect x="1075" y="629" width="1" height="59" fill="#c0c0c0"/>
<rect x="1083" y="630" width="1" height="58" fill="#c0c0c0"/>
<rect x="1091" y="628" width="1" height="60" fill="#c0c0c0"/>
<rect x="1099" y="624" width="1" height="64" fill="#c0c0c0"/>
<rect x="1107" y="622" width="1" height="66" fill="#c0c0c0"/>
<rect x="1115" y="624" width="1" height="64" fill="#c0c0c0"/>
<rect x="1123" y="624" width="1" height="64" fill="#c0c0c0"/>
<rect x="1131" y="625" width="1" height="63" fill="#c0c0c0"/>
<rect x="1139" y="628" width="1" height="60" fill="#c0c0c0"/>
<rect x="1147" y="631" width="1" height="57" fill="#c0c0c0"/>
<rect x="1155" y="633" width="1" height="55" fill="#c0c0c0"/>
<rect x="1163" y="633" width="1" height="55" fill="#c0c0c0"/>
<rect x="1171" y="633" width="1" height="55" fill="#c0c0c0"/>
<rect x="1179" y="632" width="1" height="56" fill="#c0c0c0"/>
<rect x="1187" y="634" width="1" height="54" fill="#c0c0c0"/>
<rect x="1195" y="635" width="1" height="53" fill="#c0c0c0"/>
<rect x="1203" y="637" width="1" height="51" fill="#c0c0c0"/>
<rect x="1211" y="639" width="1" height="49" fill="#c0c0c0"/>
<rect x="1219" y="642" width="1" height="46" fill="#c0c0c0"/>
<rect x="1227" y="643" width="1" height="45" fill="#c0c0c0"/>
<rect x="1235" y="647" width="1" height="41" fill="#c0c0c0"/>
<rect x="1243" y="649" width="1" height="39" fill="#c0c0c0"/>
<rect x="1251" y="651" width="1" height="37" fill="#c0c0c0"/>
<rect x="1259" y="652" width="1" height="36" fill="#c0c0c0"/>
<rect x="1267" y="654" width="1" height="34" fill="#c0c0c0"/>
<rect x="1275" y="655" width="1" height="33" fill="#c0c0c0"/>
<rect x="1283" y="657" width="1" height="31" fill="#c0c0c0"/>
<rect x="1291" y="661" width="1" height="27" fill="#c0c0c0"/>
<rect x="1299" y="663" width="1" height="25" fill="#c0c0c0"/>
<rect x="1307" y="664" width="1" height="24" fill="#c0c0c0"/>
<rect x="1315" y="665" width="1" height="23" fill="#c0c0c0"/>
<rect x="1323" y="664" width="1" height="24" fill="#c0c0c0"/>
<rect x="1331" y="664" width="1" height="24" fill="#c0c0c0"/>
<rect x="1339" y="664" width="1" height="24" fill="#c0c0c0"/>
<rect x="1347" y="662" width="1" height="26" fill="#c0c0c0"/>
<rect x="1355" y="661" width="1" height="27" fill="#c0c0c0"/>
<rect x="1363" y="665" width="1" height="23" fill="#c0c0c0"/>
<rect x="1371" y="666" width="1" height="22" fill="#c0c0c0"/>
<rect x="1379" y="662" width="1" height="26" fill="#c0c0c0"/>
<rect x="1387" y="657" width="1" height="31" fill="#c0c0c0"/>
<rect x="1395" y="653" width="1" height="35" fill="#c0c0c0"/>
<rect x="1403" y="651" width="1" height="37" fill="#c0c0c0"/>
<rect x="1411" y="650" width="1" height="38" fill="#c0c0c0"/>
<rect x="1419" y="649" width="1" height="39" fill="#c0c0c0"/>
<rect x="1427" y="649" width="1" height="39" fill="#c0c0c0"/>
<rect x="1435" y="650" width="1" height="38" fill="#c0c0c0"/>
</g>
<polyline clip-path="url(#cmacd)" points="0.0,601.5 10.0,609.0 25.0,626.5 37.5,636.5 50.0,645.2 62.5,651.5 75.0,661.5 85.0,669.0 100.0,676.5 112.5,682.0 125.0,684.8 137.5,684.5 150.0,682.8 162.5,681.0 175.0,677.0 187.5,674.0 200.0,669.5 212.5,666.0 225.0,661.5 237.5,657.0 250.0,652.8 262.5,651.5 270.0,651.5 287.5,654.0 300.0,656.0 312.5,660.8 325.0,664.0 337.5,666.0 350.0,664.8 362.5,663.5 375.0,657.8 387.5,652.8 400.0,645.2 412.5,639.0 425.0,634.8 433.0,633.5 440.5,632.2 460.5,632.2 468.0,633.5 483.0,634.5 500.5,634.2 508.0,632.0 520.5,631.0 533.0,628.5 548.0,628.5 558.0,630.2 570.5,634.8 583.0,641.5 595.5,650.2 608.0,657.8 620.5,665.2 633.0,671.5 645.5,677.8 658.0,683.5 670.5,687.8 683.0,694.0 695.5,701.5 708.0,707.8 720.5,711.0 733.0,711.5 740.5,711.0 753.0,706.0 765.5,701.5 778.0,695.2 788.0,689.0 800.5,681.5 813.0,672.8 825.5,667.2 835.5,661.5 848.0,657.2 858.0,656.0 866.0,656.5 876.0,657.8 886.0,659.8 896.0,662.8 906.0,667.8 916.0,674.5 926.0,682.8 936.0,692.8 946.0,702.8 956.0,711.5 966.0,717.8 978.5,720.2 991.0,715.2 1003.5,704.0 1016.0,689.0 1026.0,675.2 1041.0,659.0 1053.5,643.5 1066.0,633.5 1078.5,627.8 1091.0,624.8 1106.0,622.2 1116.0,623.2 1141.0,625.2 1166.0,627.0 1191.0,630.2 1216.0,634.0 1241.0,639.0 1266.0,645.2 1291.0,651.5 1299.0,653.5 1309.0,654.5 1314.0,656.5 1329.0,659.0 1344.0,661.5 1361.5,663.0 1374.0,663.2 1386.5,662.2 1399.0,660.8 1411.5,658.5 1424.0,655.2 1435.5,652.8" fill="none" stroke="#ff0000" stroke-width="1" stroke-dasharray="3 2" shape-rendering="crispEdges"/>
<g shape-rendering="crispEdges">
<line x1="0" y1="783.5" x2="1685" y2="783.5" stroke="#c0c0c0" stroke-width="1" stroke-dasharray="3 3"/>
<line x1="0" y1="834.5" x2="1685" y2="834.5" stroke="#c0c0c0" stroke-width="1" stroke-dasharray="3 3"/>
<line x1="0" y1="895.5" x2="1685" y2="895.5" stroke="#c0c0c0" stroke-width="1" stroke-dasharray="3 3"/>
</g>
<polyline clip-path="url(#crsi)" points="3.5,829.5 11.5,827.5 19.5,835.8 27.5,837.0 35.5,827.5 43.5,829.0 51.5,840.0 59.5,836.2 67.5,845.2 75.5,846.5 83.5,834.5 91.5,833.2 99.5,834.5 107.5,831.5 115.5,833.2 123.5,829.5 131.5,822.5 139.5,831.2 147.5,828.2 155.5,834.5 163.5,828.2 171.5,827.2 179.5,827.2 187.5,814.5 195.5,814.5 203.5,818.2 211.5,821.2 219.5,819.5 227.5,819.5 235.5,815.2 243.5,814.5 251.5,825.0 259.5,831.5 267.5,831.5 275.5,825.5 283.5,832.5 291.5,829.2 299.5,829.2 307.5,832.2 315.5,832.2 323.5,823.8 331.5,820.0 339.5,809.5 347.5,805.2 355.5,804.0 363.5,804.5 371.5,796.5 379.5,797.5 387.5,793.5 395.5,793.5 403.5,798.2 411.5,796.5 419.5,799.5 427.5,805.8 435.5,814.5 443.5,809.0 451.5,806.2 459.5,804.2 467.5,794.5 475.5,800.0 483.5,797.0 491.5,792.5 499.5,791.5 507.5,788.5 515.5,807.0 523.5,800.0 531.5,792.5 539.5,829.0 547.5,831.2 555.5,831.2 563.5,824.8 571.5,847.0 579.5,832.8 587.5,841.2 595.5,841.2 603.5,836.2 611.5,832.8 619.5,835.2 627.5,833.5 635.5,837.0 643.5,842.0 651.5,843.5 659.5,854.0 667.5,849.5 675.5,862.5 683.5,854.5 691.5,848.2 699.5,846.2 707.5,834.5 715.5,837.5 723.5,829.5 731.5,831.0 739.5,834.8 747.5,829.0 755.5,824.8 763.5,834.5 771.5,820.0 779.5,816.0 787.5,814.5 795.5,816.2 803.5,810.5 811.5,815.8 819.5,821.2 827.5,821.2 835.5,822.2 843.5,819.5 851.5,830.2 859.5,828.5 867.5,838.2 875.5,828.2 883.5,832.0 891.5,835.0 899.5,849.5 907.5,858.2 915.5,869.0 923.5,872.0 931.5,870.2 939.5,873.2 947.5,852.0 955.5,834.5 963.5,831.5 971.5,820.5 979.5,820.5 987.5,815.8 995.5,806.5 1003.5,803.5 1011.5,803.5 1019.5,812.0 1027.5,805.0 1035.5,802.5 1043.5,799.5 1051.5,803.0 1059.5,814.0 1067.5,820.0 1075.5,821.5 1083.5,819.5 1091.5,810.8 1099.5,804.5 1107.5,810.0 1115.5,813.2 1123.5,811.5 1131.5,811.5 1139.5,817.5 1147.5,816.5 1155.5,814.5 1163.5,811.5 1171.5,807.0 1179.5,805.8 1187.5,815.0 1195.5,810.8 1203.5,815.0 1211.5,816.2 1219.5,816.2 1227.5,812.5 1235.5,824.5 1243.5,818.5 1251.5,819.5 1259.5,816.5 1267.5,818.2 1275.5,818.8 1283.5,823.2 1291.5,828.2 1299.5,824.5 1307.5,823.2 1315.5,820.0 1323.5,811.5 1331.5,818.2 1339.5,815.0 1347.5,809.5 1355.5,808.2 1363.5,832.0 1371.5,826.5 1379.5,807.8 1387.5,803.5 1395.5,801.2 1403.5,807.0 1411.5,807.0 1419.5,805.2 1427.5,806.5 1435.5,810.8" fill="none" stroke="#1e90ff" stroke-width="1" shape-rendering="crispEdges"/>
<polygon points="1443,21 1452,21 1447.5,26" fill="#c0c0c0"/>
<g shape-rendering="crispEdges">
<rect x="0" y="20" width="1686" height="1" fill="#000"/>
<rect x="0" y="587" width="1686" height="1" fill="#000"/>
<rect x="0" y="589" width="1686" height="1" fill="#000"/>
<rect x="0" y="745" width="1686" height="1" fill="#000"/>
<rect x="0" y="747" width="1686" height="1" fill="#000"/>
<rect x="0" y="921" width="1686" height="1" fill="#000"/>
<rect x="1685" y="20" width="1" height="568" fill="#000"/>
<rect x="1685" y="589" width="1" height="157" fill="#000"/>
<rect x="1685" y="747" width="1" height="175" fill="#000"/>
<rect x="1686" y="23" width="2" height="1" fill="#000"/>
<rect x="1686" y="56" width="2" height="1" fill="#000"/>
<rect x="1686" y="89" width="2" height="1" fill="#000"/>
<rect x="1686" y="122" width="2" height="1" fill="#000"/>
<rect x="1686" y="155" width="2" height="1" fill="#000"/>
<rect x="1686" y="188" width="2" height="1" fill="#000"/>
<rect x="1686" y="221" width="2" height="1" fill="#000"/>
<rect x="1686" y="254" width="2" height="1" fill="#000"/>
<rect x="1686" y="287" width="2" height="1" fill="#000"/>
<rect x="1686" y="320" width="2" height="1" fill="#000"/>
<rect x="1686" y="353" width="2" height="1" fill="#000"/>
<rect x="1686" y="386" width="2" height="1" fill="#000"/>
<rect x="1686" y="419" width="2" height="1" fill="#000"/>
<rect x="1686" y="452" width="2" height="1" fill="#000"/>
<rect x="1686" y="485" width="2" height="1" fill="#000"/>
<rect x="1686" y="518" width="2" height="1" fill="#000"/>
<rect x="1686" y="551" width="2" height="1" fill="#000"/>
<rect x="1686" y="584" width="2" height="1" fill="#000"/>
<rect x="1686" y="591" width="2" height="1" fill="#000"/>
<rect x="1686" y="687" width="2" height="1" fill="#000"/>
<rect x="1686" y="744" width="2" height="1" fill="#000"/>
<rect x="1686" y="749" width="2" height="1" fill="#000"/>
<rect x="1686" y="783" width="2" height="1" fill="#000"/>
<rect x="1686" y="834" width="2" height="1" fill="#000"/>
<rect x="1686" y="895" width="2" height="1" fill="#000"/>
<rect x="1686" y="920" width="2" height="1" fill="#000"/>
<rect x="59" y="922" width="1" height="3" fill="#000"/>
<rect x="123" y="922" width="1" height="3" fill="#000"/>
<rect x="187" y="922" width="1" height="3" fill="#000"/>
<rect x="251" y="922" width="1" height="3" fill="#000"/>
<rect x="315" y="922" width="1" height="3" fill="#000"/>
<rect x="379" y="922" width="1" height="3" fill="#000"/>
<rect x="443" y="922" width="1" height="3" fill="#000"/>
<rect x="507" y="922" width="1" height="3" fill="#000"/>
<rect x="571" y="922" width="1" height="3" fill="#000"/>
<rect x="635" y="922" width="1" height="3" fill="#000"/>
<rect x="699" y="922" width="1" height="3" fill="#000"/>
<rect x="763" y="922" width="1" height="3" fill="#000"/>
<rect x="827" y="922" width="1" height="3" fill="#000"/>
<rect x="891" y="922" width="1" height="3" fill="#000"/>
<rect x="955" y="922" width="1" height="3" fill="#000"/>
<rect x="1019" y="922" width="1" height="3" fill="#000"/>
<rect x="1083" y="922" width="1" height="3" fill="#000"/>
<rect x="1147" y="922" width="1" height="3" fill="#000"/>
<rect x="1211" y="922" width="1" height="3" fill="#000"/>
<rect x="1275" y="922" width="1" height="3" fill="#000"/>
<rect x="1339" y="922" width="1" height="3" fill="#000"/>
<rect x="1403" y="922" width="1" height="3" fill="#000"/>
</g>
<g font-family='"Liberation Sans", sans-serif'>
<text x="1691" y="27" font-size="10" fill="#000" textLength="33.60" lengthAdjust="spacingAndGlyphs" >31451.0</text>
<text x="1691" y="60" font-size="10" fill="#000" textLength="33.60" lengthAdjust="spacingAndGlyphs" >31043.0</text>
<text x="1691" y="93" font-size="10" fill="#000" textLength="33.60" lengthAdjust="spacingAndGlyphs" >30647.0</text>
<text x="1691" y="126" font-size="10" fill="#000" textLength="33.60" lengthAdjust="spacingAndGlyphs" >30251.0</text>
<text x="1691" y="159" font-size="10" fill="#000" textLength="33.60" lengthAdjust="spacingAndGlyphs" >29843.0</text>
<text x="1691" y="192" font-size="10" fill="#000" textLength="33.60" lengthAdjust="spacingAndGlyphs" >29447.0</text>
<text x="1691" y="225" font-size="10" fill="#000" textLength="33.60" lengthAdjust="spacingAndGlyphs" >29051.0</text>
<text x="1691" y="258" font-size="10" fill="#000" textLength="33.60" lengthAdjust="spacingAndGlyphs" >28655.0</text>
<text x="1691" y="291" font-size="10" fill="#000" textLength="33.60" lengthAdjust="spacingAndGlyphs" >28247.0</text>
<text x="1691" y="324" font-size="10" fill="#000" textLength="33.60" lengthAdjust="spacingAndGlyphs" >27851.0</text>
<text x="1691" y="357" font-size="10" fill="#000" textLength="33.60" lengthAdjust="spacingAndGlyphs" >27455.0</text>
<text x="1691" y="390" font-size="10" fill="#000" textLength="33.60" lengthAdjust="spacingAndGlyphs" >27047.0</text>
<text x="1691" y="423" font-size="10" fill="#000" textLength="33.60" lengthAdjust="spacingAndGlyphs" >26651.0</text>
<text x="1691" y="456" font-size="10" fill="#000" textLength="33.60" lengthAdjust="spacingAndGlyphs" >26255.0</text>
<text x="1691" y="489" font-size="10" fill="#000" textLength="33.60" lengthAdjust="spacingAndGlyphs" >25847.0</text>
<text x="1691" y="522" font-size="10" fill="#000" textLength="33.60" lengthAdjust="spacingAndGlyphs" >25451.0</text>
<text x="1691" y="555" font-size="10" fill="#000" textLength="33.60" lengthAdjust="spacingAndGlyphs" >25055.0</text>
<text x="1691" y="588" font-size="10" fill="#000" textLength="33.60" lengthAdjust="spacingAndGlyphs" >24659.0</text>
<text x="1689" y="600" font-size="10" fill="#000" textLength="27.83" lengthAdjust="spacingAndGlyphs" >705.89</text>
<text x="1689" y="691" font-size="10" fill="#000" textLength="17.71" lengthAdjust="spacingAndGlyphs" >0.00</text>
<text x="1688.5" y="742" font-size="10" fill="#000" textLength="30.86" lengthAdjust="spacingAndGlyphs" >-426.01</text>
<text x="1689" y="758" font-size="10" fill="#000" textLength="15.18" lengthAdjust="spacingAndGlyphs" >100</text>
<text x="1689" y="787.5" font-size="10" fill="#000" textLength="10.12" lengthAdjust="spacingAndGlyphs" >80</text>
<text x="1689" y="838" font-size="10" fill="#000" textLength="10.12" lengthAdjust="spacingAndGlyphs" >50</text>
<text x="1689" y="899" font-size="10" fill="#000" textLength="10.12" lengthAdjust="spacingAndGlyphs" >15</text>
<text x="1689" y="918" font-size="10" fill="#000" textLength="5.06" lengthAdjust="spacingAndGlyphs" >0</text>
<text x="-5.8" y="934" font-size="10" fill="#000" textLength="50.09" lengthAdjust="spacingAndGlyphs" >16 Jun 2020</text>
<text x="58.2" y="934" font-size="10" fill="#000" textLength="50.09" lengthAdjust="spacingAndGlyphs" >25 Jun 2020</text>
<text x="122.2" y="934" font-size="10" fill="#000" textLength="41.99" lengthAdjust="spacingAndGlyphs" >5 Jul 2020</text>
<text x="186.2" y="934" font-size="10" fill="#000" textLength="47.05" lengthAdjust="spacingAndGlyphs" >14 Jul 2020</text>
<text x="250.2" y="934" font-size="10" fill="#000" textLength="47.05" lengthAdjust="spacingAndGlyphs" >23 Jul 2020</text>
<text x="314.2" y="934" font-size="10" fill="#000" textLength="46.05" lengthAdjust="spacingAndGlyphs" >2 Aug 2020</text>
<text x="378.2" y="934" font-size="10" fill="#000" textLength="50.43" lengthAdjust="spacingAndGlyphs" >11 Aug 2020</text>
<text x="442.2" y="934" font-size="10" fill="#000" textLength="51.11" lengthAdjust="spacingAndGlyphs" >20 Aug 2020</text>
<text x="506.2" y="934" font-size="10" fill="#000" textLength="51.11" lengthAdjust="spacingAndGlyphs" >30 Aug 2020</text>
<text x="570.2" y="934" font-size="10" fill="#000" textLength="46.55" lengthAdjust="spacingAndGlyphs" >8 Sep 2020</text>
<text x="634.2" y="934" font-size="10" fill="#000" textLength="51.61" lengthAdjust="spacingAndGlyphs" >17 Sep 2020</text>
<text x="698.2" y="934" font-size="10" fill="#000" textLength="51.61" lengthAdjust="spacingAndGlyphs" >27 Sep 2020</text>
<text x="762.2" y="934" font-size="10" fill="#000" textLength="44.51" lengthAdjust="spacingAndGlyphs" >6 Oct 2020</text>
<text x="826.2" y="934" font-size="10" fill="#000" textLength="49.58" lengthAdjust="spacingAndGlyphs" >15 Oct 2020</text>
<text x="890.2" y="934" font-size="10" fill="#000" textLength="49.58" lengthAdjust="spacingAndGlyphs" >25 Oct 2020</text>
<text x="954.2" y="934" font-size="10" fill="#000" textLength="46.54" lengthAdjust="spacingAndGlyphs" >3 Nov 2020</text>
<text x="1018.2" y="934" font-size="10" fill="#000" textLength="51.60" lengthAdjust="spacingAndGlyphs" >12 Nov 2020</text>
<text x="1082.2" y="934" font-size="10" fill="#000" textLength="51.60" lengthAdjust="spacingAndGlyphs" >22 Nov 2020</text>
<text x="1146.2" y="934" font-size="10" fill="#000" textLength="46.54" lengthAdjust="spacingAndGlyphs" >1 Dec 2020</text>
<text x="1210.2" y="934" font-size="10" fill="#000" textLength="51.60" lengthAdjust="spacingAndGlyphs" >10 Dec 2020</text>
<text x="1274.2" y="934" font-size="10" fill="#000" textLength="51.60" lengthAdjust="spacingAndGlyphs" >20 Dec 2020</text>
<text x="1338.2" y="934" font-size="10" fill="#000" textLength="51.60" lengthAdjust="spacingAndGlyphs" >30 Dec 2020</text>
<text x="1402.2" y="934" font-size="10" fill="#000" textLength="50.09" lengthAdjust="spacingAndGlyphs" >10 Jan 2021</text>
<text x="10.5" y="32" font-size="10" fill="#000" textLength="196.00" lengthAdjust="spacingAndGlyphs" >DJ30-,Daily&#160; 30976.0 31112.0 30879.0 30901.0</text>
<text x="0" y="602" font-size="10" fill="#000" textLength="127.80" lengthAdjust="spacingAndGlyphs" >MACD(12,26,9) 278.82 245.76</text>
<text x="-1.5" y="760" font-size="10" fill="#000" textLength="68.60" lengthAdjust="spacingAndGlyphs" >RSI(14) 63.8330</text>
</g>
<polygon points="0,31 2.5,26.5 5,31" fill="#000"/>
<g shape-rendering="crispEdges">
<rect x="1687" y="25" width="41" height="11" fill="#ff0000"/>
<text x="1691" y="34" font-family='"Liberation Sans", sans-serif' font-size="10" fill="#fff" textLength="33.6" lengthAdjust="spacingAndGlyphs">31348.0</text>
<rect x="1687" y="37" width="41" height="11" fill="#ff0000"/>
<text x="1691" y="46" font-family='"Liberation Sans", sans-serif' font-size="10" fill="#fff" textLength="33.6" lengthAdjust="spacingAndGlyphs">31200.4</text>
<rect x="1687" y="62" width="41" height="11" fill="#32cd32"/>
<text x="1691" y="71" font-family='"Liberation Sans", sans-serif' font-size="10" fill="#f4ffd0" textLength="33.6" lengthAdjust="spacingAndGlyphs">30899.7</text>
<rect x="1687" y="73" width="41" height="1" fill="#000"/>
<rect x="1687" y="74" width="41" height="11" fill="#0000ff"/>
<text x="1691" y="83" font-family='"Liberation Sans", sans-serif' font-size="10" fill="#fff" textLength="33.6" lengthAdjust="spacingAndGlyphs">30761.9</text>
<rect x="1687" y="88" width="41" height="11" fill="#0000ff"/>
<text x="1691" y="97" font-family='"Liberation Sans", sans-serif' font-size="10" fill="#fff" textLength="33.6" lengthAdjust="spacingAndGlyphs">30590.9</text>
</g>
</svg>
<div id="oc">
  <svg style="position:absolute;left:0;top:-38px" width="219" height="106" font-family='"Liberation Sans", sans-serif' shape-rendering="crispEdges">
    <defs>
      <linearGradient id="gU" x1="0" y1="0" x2="0" y2="1"><stop offset="0" stop-color="#fa5c5c"/><stop offset="1" stop-color="#dc2e2e"/></linearGradient>
      <linearGradient id="gL" x1="0" y1="0" x2="0" y2="1"><stop offset="0" stop-color="#e33a3a"/><stop offset="1" stop-color="#b00808"/></linearGradient>
      <linearGradient id="gB" x1="0" y1="0" x2="0" y2="1"><stop offset="0" stop-color="#f4f4f4"/><stop offset="0.45" stop-color="#e6e6e6"/><stop offset="0.5" stop-color="#dadada"/><stop offset="1" stop-color="#d2d2d2"/></linearGradient>
    </defs>
    <rect x="0" y="38" width="219" height="68" fill="#fff"/>
    <rect x="-1" y="40" width="51" height="24" fill="url(#gU)"/>
    <rect x="-1" y="64" width="108" height="40" fill="url(#gL)"/>
    <rect x="165" y="40" width="52" height="24" fill="url(#gU)"/>
    <rect x="109" y="64" width="108" height="40" fill="url(#gL)"/>
    <path d="M-1 40.5 H49.5 V64.5 H106.5 V103.5 H-1" fill="none" stroke="#b80000" stroke-width="1"/>
    <path d="M109.5 103.5 V64.5 H165.5 V40.5 H216.5 V103.5 Z" fill="none" stroke="#b80000" stroke-width="1"/>
    <rect x="2" y="64" width="44" height="1" fill="#8a0000"/>
    <rect x="2" y="65" width="44" height="1" fill="#ea5050"/>
    <rect x="169" y="64" width="44" height="1" fill="#8a0000"/>
    <rect x="169" y="65" width="44" height="1" fill="#ea5050"/>
    <rect x="52.5" y="40.5" width="110" height="21" fill="#fff" stroke="#a4a7ae" stroke-width="1"/>
    <rect x="53" y="41" width="20" height="20" fill="#fff"/>
    <rect x="54" y="42" width="19" height="18" fill="url(#gB)"/>
    <rect x="73" y="41" width="1" height="20" fill="#a4a7ae"/>
    <rect x="142" y="41" width="20" height="20" fill="#fff"/>
    <rect x="142" y="42" width="19" height="18" fill="url(#gB)"/>
    <rect x="141" y="41" width="1" height="20" fill="#a4a7ae"/>
    <g shape-rendering="auto">
    <polygon points="60,49 65.2,49 62.6,52" fill="#4a62c8"/><polygon points="148.7,52 154.1,52 151.4,49" fill="#4a62c8"/>
    <text x="138" y="55" font-size="12" fill="#000" text-anchor="end">1.00</text>
    <text x="10.3" y="55.5" font-size="11" fill="#ffecec" textLength="25.8" lengthAdjust="spacingAndGlyphs">SELL</text>
    <text x="178.5" y="55.5" font-size="11" fill="#ffecec" textLength="23.6" lengthAdjust="spacingAndGlyphs">BUY</text>
    <text x="14.4" y="94.9" font-size="12" font-weight="bold" fill="#fff" textLength="34" lengthAdjust="spacingAndGlyphs">30899</text>
    <text x="124.6" y="94.9" font-size="12" font-weight="bold" fill="#fff" textLength="34" lengthAdjust="spacingAndGlyphs">30909</text>
    <rect x="54" y="91.3" width="3.4" height="3.4" rx="1.2" fill="#fff"/>
    <rect x="164.7" y="91.3" width="3.4" height="3.4" rx="1.2" fill="#fff"/>
    <text x="60.2" y="94.9" font-size="33.5" fill="#fff" textLength="16.6" lengthAdjust="spacingAndGlyphs">5</text>
    <text x="171.7" y="94.9" font-size="33.5" fill="#fff" textLength="16.6" lengthAdjust="spacingAndGlyphs">5</text>
    </g>
  </svg>
</div>
</body></html>
